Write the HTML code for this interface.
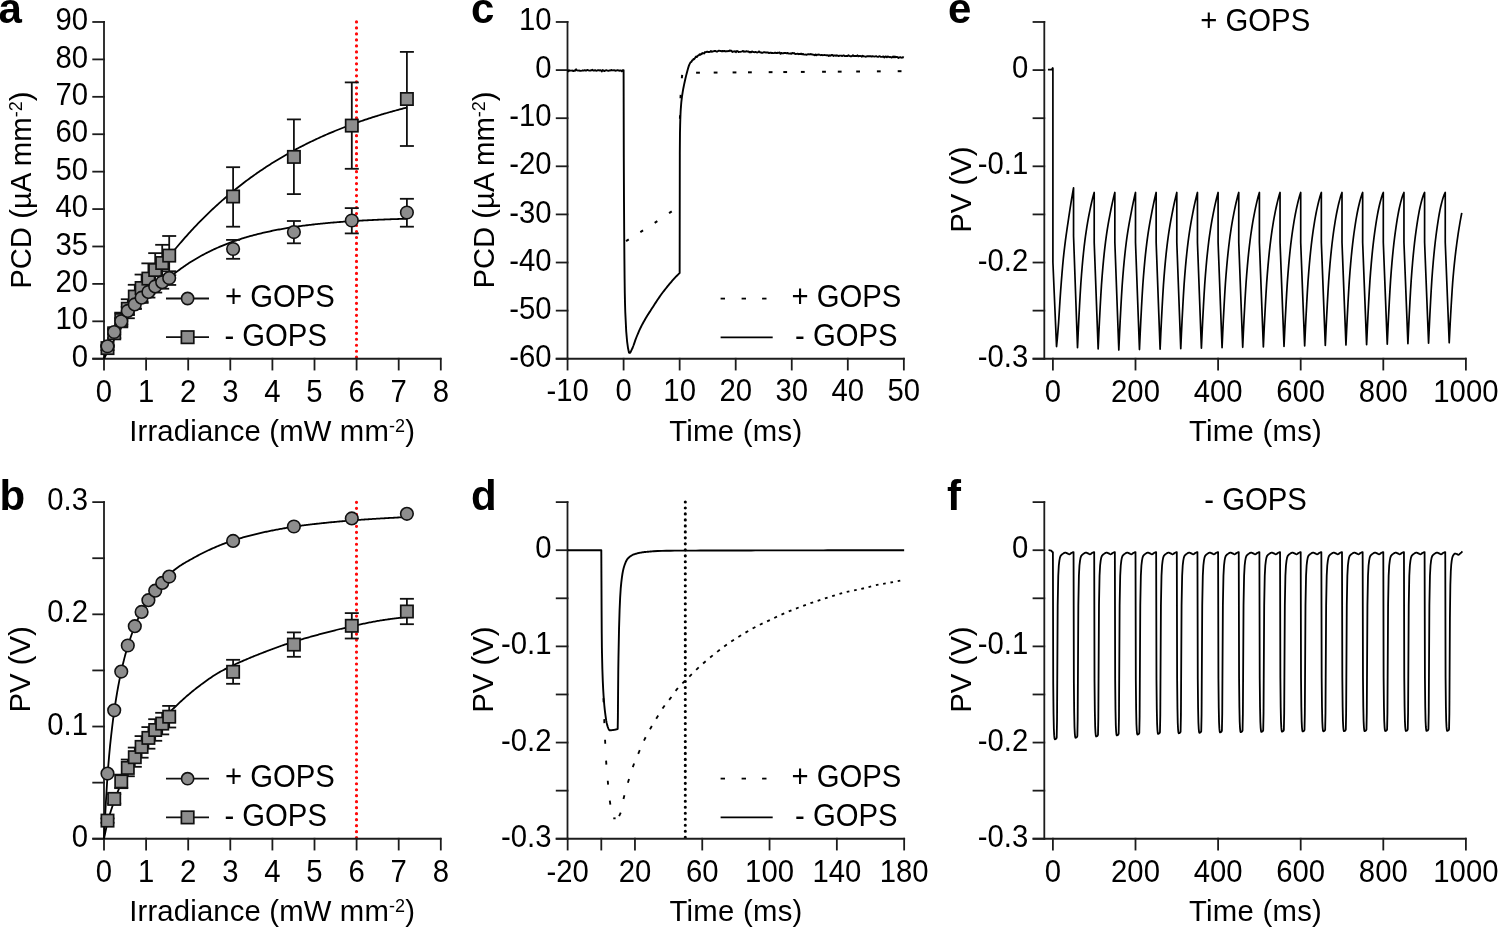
<!DOCTYPE html>
<html><head><meta charset="utf-8"><style>
html,body{margin:0;padding:0;background:#fff;width:1498px;height:928px;overflow:hidden}
svg{display:block;will-change:transform}
text{font-family:"Liberation Sans",sans-serif;fill:#000}
</style></head><body>
<svg width="1498" height="928" viewBox="0 0 1498 928">
<rect width="1498" height="928" fill="#fff"/>
<line x1="356.5" y1="502.35" x2="356.5" y2="838.5" stroke="#ff0a0a" stroke-width="3.2" stroke-linecap="round" stroke-dasharray="0.001 5.986" />
<line x1="356.5" y1="21.95" x2="356.5" y2="358" stroke="#ff0a0a" stroke-width="3.2" stroke-linecap="round" stroke-dasharray="0.001 5.986" />
<text x="-1.5" y="22.8" text-anchor="start" font-size="42" font-weight="bold" >a</text>
<text x="-0.5" y="510" text-anchor="start" font-size="42" font-weight="bold" >b</text>
<text x="471" y="22.8" text-anchor="start" font-size="42" font-weight="bold" >c</text>
<text x="471" y="510" text-anchor="start" font-size="42" font-weight="bold" >d</text>
<text x="948" y="22.8" text-anchor="start" font-size="42" font-weight="bold" >e</text>
<text x="947" y="510" text-anchor="start" font-size="42" font-weight="bold" >f</text>
<line x1="104" y1="21.08" x2="104" y2="359.64" stroke="#1c1c1c" stroke-width="1.8" />
<line x1="92.3" y1="358.74" x2="104.9" y2="358.74" stroke="#1c1c1c" stroke-width="1.8" />
<text transform="translate(88 366.84) scale(1 1.08)" text-anchor="end" font-size="29.3" font-weight="normal" >0</text>
<line x1="92.3" y1="321.32" x2="104.9" y2="321.32" stroke="#1c1c1c" stroke-width="1.8" />
<text transform="translate(88 329.42) scale(1 1.08)" text-anchor="end" font-size="29.3" font-weight="normal" >10</text>
<line x1="92.3" y1="283.9" x2="104.9" y2="283.9" stroke="#1c1c1c" stroke-width="1.8" />
<text transform="translate(88 292) scale(1 1.08)" text-anchor="end" font-size="29.3" font-weight="normal" >20</text>
<line x1="92.3" y1="246.49" x2="104.9" y2="246.49" stroke="#1c1c1c" stroke-width="1.8" />
<text transform="translate(88 254.59) scale(1 1.08)" text-anchor="end" font-size="29.3" font-weight="normal" >35</text>
<line x1="92.3" y1="209.07" x2="104.9" y2="209.07" stroke="#1c1c1c" stroke-width="1.8" />
<text transform="translate(88 217.17) scale(1 1.08)" text-anchor="end" font-size="29.3" font-weight="normal" >40</text>
<line x1="92.3" y1="171.65" x2="104.9" y2="171.65" stroke="#1c1c1c" stroke-width="1.8" />
<text transform="translate(88 179.75) scale(1 1.08)" text-anchor="end" font-size="29.3" font-weight="normal" >50</text>
<line x1="92.3" y1="134.23" x2="104.9" y2="134.23" stroke="#1c1c1c" stroke-width="1.8" />
<text transform="translate(88 142.33) scale(1 1.08)" text-anchor="end" font-size="29.3" font-weight="normal" >60</text>
<line x1="92.3" y1="96.82" x2="104.9" y2="96.82" stroke="#1c1c1c" stroke-width="1.8" />
<text transform="translate(88 104.92) scale(1 1.08)" text-anchor="end" font-size="29.3" font-weight="normal" >70</text>
<line x1="92.3" y1="59.4" x2="104.9" y2="59.4" stroke="#1c1c1c" stroke-width="1.8" />
<text transform="translate(88 67.5) scale(1 1.08)" text-anchor="end" font-size="29.3" font-weight="normal" >80</text>
<line x1="92.3" y1="21.98" x2="104.9" y2="21.98" stroke="#1c1c1c" stroke-width="1.8" />
<text transform="translate(88 30.08) scale(1 1.08)" text-anchor="end" font-size="29.3" font-weight="normal" >90</text>
<line x1="92.3" y1="358.74" x2="441.4" y2="358.74" stroke="#1c1c1c" stroke-width="1.8" />
<line x1="104" y1="357.84" x2="104" y2="370.44" stroke="#1c1c1c" stroke-width="1.8" />
<text transform="translate(104 401.74) scale(1 1.08)" text-anchor="middle" font-size="29.3" font-weight="normal" >0</text>
<line x1="146.1" y1="357.84" x2="146.1" y2="370.44" stroke="#1c1c1c" stroke-width="1.8" />
<text transform="translate(146.1 401.74) scale(1 1.08)" text-anchor="middle" font-size="29.3" font-weight="normal" >1</text>
<line x1="188.2" y1="357.84" x2="188.2" y2="370.44" stroke="#1c1c1c" stroke-width="1.8" />
<text transform="translate(188.2 401.74) scale(1 1.08)" text-anchor="middle" font-size="29.3" font-weight="normal" >2</text>
<line x1="230.3" y1="357.84" x2="230.3" y2="370.44" stroke="#1c1c1c" stroke-width="1.8" />
<text transform="translate(230.3 401.74) scale(1 1.08)" text-anchor="middle" font-size="29.3" font-weight="normal" >3</text>
<line x1="272.4" y1="357.84" x2="272.4" y2="370.44" stroke="#1c1c1c" stroke-width="1.8" />
<text transform="translate(272.4 401.74) scale(1 1.08)" text-anchor="middle" font-size="29.3" font-weight="normal" >4</text>
<line x1="314.5" y1="357.84" x2="314.5" y2="370.44" stroke="#1c1c1c" stroke-width="1.8" />
<text transform="translate(314.5 401.74) scale(1 1.08)" text-anchor="middle" font-size="29.3" font-weight="normal" >5</text>
<line x1="356.6" y1="357.84" x2="356.6" y2="370.44" stroke="#1c1c1c" stroke-width="1.8" />
<text transform="translate(356.6 401.74) scale(1 1.08)" text-anchor="middle" font-size="29.3" font-weight="normal" >6</text>
<line x1="398.7" y1="357.84" x2="398.7" y2="370.44" stroke="#1c1c1c" stroke-width="1.8" />
<text transform="translate(398.7 401.74) scale(1 1.08)" text-anchor="middle" font-size="29.3" font-weight="normal" >7</text>
<line x1="440.8" y1="357.84" x2="440.8" y2="370.44" stroke="#1c1c1c" stroke-width="1.8" />
<text transform="translate(440.8 401.74) scale(1 1.08)" text-anchor="middle" font-size="29.3" font-weight="normal" >8</text>
<text transform="translate(272.2 440.8) scale(1 1.03)" text-anchor="middle" font-size="29.3" font-weight="normal" letter-spacing="0.15">Irradiance (mW mm<tspan font-size="18" dy="-8.3">-2</tspan><tspan dy="8.3">)</tspan></text>
<text x="0" y="0" text-anchor="middle" font-size="29.3" transform="translate(30.8,190.2) rotate(-90) scale(1 1.03)">PCD (µA mm<tspan font-size="18" dy="-8.3">-2</tspan><tspan dy="8.3">)</tspan></text>
<path d="M104 358.74 L105.27 356.33 L106.54 353.94 L107.8 351.55 L109.07 349.18 L110.34 346.83 L111.61 344.5 L112.88 342.18 L114.15 339.89 L115.41 337.61 L116.68 335.35 L117.95 333.11 L119.22 330.88 L120.49 328.68 L121.76 326.49 L123.02 324.32 L124.29 322.17 L125.56 320.03 L126.83 317.91 L128.1 315.82 L129.37 313.73 L130.63 311.67 L131.9 309.62 L133.17 307.59 L134.44 305.57 L135.71 303.58 L136.98 301.6 L138.24 299.63 L139.51 297.68 L140.78 295.75 L142.05 293.84 L143.32 291.94 L144.59 290.05 L145.85 288.19 L147.12 286.33 L148.39 284.5 L149.66 282.68 L150.93 280.87 L152.19 279.08 L153.46 277.3 L154.73 275.54 L156 273.8 L157.27 272.06 L158.54 270.35 L159.8 268.65 L161.07 266.96 L162.34 265.28 L163.61 263.62 L164.88 261.98 L166.15 260.35 L167.41 258.73 L168.68 257.12 L169.95 255.53 L171.22 253.95 L172.49 252.39 L173.76 250.84 L175.02 249.3 L176.29 247.78 L177.56 246.26 L178.83 244.76 L180.1 243.28 L181.37 241.8 L182.63 240.34 L183.9 238.89 L185.17 237.46 L186.44 236.03 L187.71 234.62 L188.98 233.22 L190.24 231.83 L191.51 230.45 L192.78 229.09 L194.05 227.73 L195.32 226.39 L196.58 225.06 L197.85 223.74 L199.12 222.43 L200.39 221.13 L201.66 219.85 L202.93 218.57 L204.19 217.3 L205.46 216.05 L206.73 214.81 L208 213.57 L209.27 212.35 L210.54 211.14 L211.8 209.94 L213.07 208.75 L214.34 207.56 L215.61 206.39 L216.88 205.23 L218.15 204.08 L219.41 202.94 L220.68 201.81 L221.95 200.68 L223.22 199.57 L224.49 198.47 L225.76 197.37 L227.02 196.29 L228.29 195.21 L229.56 194.14 L230.83 193.09 L232.1 192.04 L233.37 191 L234.63 189.97 L235.9 188.95 L237.17 187.93 L238.44 186.93 L239.71 185.93 L240.97 184.94 L242.24 183.97 L243.51 182.99 L244.78 182.03 L246.05 181.08 L247.32 180.13 L248.58 179.19 L249.85 178.26 L251.12 177.34 L252.39 176.43 L253.66 175.52 L254.93 174.62 L256.19 173.73 L257.46 172.84 L258.73 171.97 L260 171.1 L261.27 170.24 L262.54 169.38 L263.8 168.54 L265.07 167.7 L266.34 166.87 L267.61 166.04 L268.88 165.22 L270.15 164.41 L271.41 163.61 L272.68 162.81 L273.95 162.02 L275.22 161.23 L276.49 160.46 L277.75 159.69 L279.02 158.92 L280.29 158.16 L281.56 157.41 L282.83 156.67 L284.1 155.93 L285.36 155.2 L286.63 154.47 L287.9 153.75 L289.17 153.04 L290.44 152.33 L291.71 151.63 L292.97 150.93 L294.24 150.24 L295.51 149.56 L296.78 148.88 L298.05 148.21 L299.32 147.54 L300.58 146.88 L301.85 146.23 L303.12 145.58 L304.39 144.94 L305.66 144.3 L306.93 143.66 L308.19 143.04 L309.46 142.41 L310.73 141.8 L312 141.19 L313.27 140.58 L314.54 139.98 L315.8 139.38 L317.07 138.79 L318.34 138.21 L319.61 137.62 L320.88 137.05 L322.14 136.48 L323.41 135.91 L324.68 135.35 L325.95 134.79 L327.22 134.24 L328.49 133.69 L329.75 133.15 L331.02 132.61 L332.29 132.08 L333.56 131.55 L334.83 131.03 L336.1 130.51 L337.36 129.99 L338.63 129.48 L339.9 128.98 L341.17 128.47 L342.44 127.98 L343.71 127.48 L344.97 126.99 L346.24 126.51 L347.51 126.03 L348.78 125.55 L350.05 125.08 L351.32 124.61 L352.58 124.14 L353.85 123.68 L355.12 123.23 L356.39 122.77 L357.66 122.32 L358.93 121.88 L360.19 121.44 L361.46 121 L362.73 120.57 L364 120.14 L365.27 119.71 L366.53 119.29 L367.8 118.87 L369.07 118.45 L370.34 118.04 L371.61 117.63 L372.88 117.23 L374.14 116.82 L375.41 116.43 L376.68 116.03 L377.95 115.64 L379.22 115.25 L380.49 114.87 L381.75 114.48 L383.02 114.11 L384.29 113.73 L385.56 113.36 L386.83 112.99 L388.1 112.63 L389.36 112.26 L390.63 111.9 L391.9 111.55 L393.17 111.19 L394.44 110.84 L395.71 110.5 L396.97 110.15 L398.24 109.81 L399.51 109.47 L400.78 109.14 L402.05 108.81 L403.32 108.48 L404.58 108.15 L405.85 107.83 L407.12 107.5" fill="none" stroke="#000" stroke-width="1.8" stroke-linejoin="round" />
<path d="M104 358.74 L105.27 353.97 L106.54 349.61 L107.8 345.89 L109.07 342.64 L110.34 339.66 L111.61 336.95 L112.88 334.46 L114.15 332.18 L115.41 330.12 L116.68 328.28 L117.95 326.56 L119.22 324.89 L120.49 323.2 L121.76 321.4 L123.02 319.44 L124.29 317.38 L125.56 315.32 L126.83 313.37 L128.1 311.62 L129.37 310.12 L130.63 308.79 L131.9 307.55 L133.17 306.37 L134.44 305.18 L135.71 303.94 L136.98 302.68 L138.24 301.42 L139.51 300.18 L140.78 298.97 L142.05 297.79 L143.32 296.66 L144.59 295.56 L145.85 294.48 L147.12 293.41 L148.39 292.34 L149.66 291.25 L150.93 290.15 L152.19 289.05 L153.46 287.99 L154.73 286.99 L156 286.07 L157.27 285.22 L158.54 284.41 L159.8 283.63 L161.07 282.86 L162.34 282.07 L163.61 281.3 L164.88 280.55 L166.15 279.79 L167.41 279 L168.68 278.17 L169.95 277.25 L171.22 276.23 L172.49 275.17 L173.76 274.1 L175.02 273.07 L176.29 272.08 L177.56 271.12 L178.83 270.17 L180.1 269.24 L181.37 268.32 L182.63 267.41 L183.9 266.53 L185.17 265.65 L186.44 264.79 L187.71 263.95 L188.98 263.12 L190.24 262.3 L191.51 261.5 L192.78 260.71 L194.05 259.93 L195.32 259.17 L196.58 258.42 L197.85 257.68 L199.12 256.95 L200.39 256.24 L201.66 255.54 L202.93 254.85 L204.19 254.17 L205.46 253.51 L206.73 252.85 L208 252.21 L209.27 251.58 L210.54 250.96 L211.8 250.35 L213.07 249.75 L214.34 249.16 L215.61 248.58 L216.88 248.01 L218.15 247.45 L219.41 246.9 L220.68 246.36 L221.95 245.83 L223.22 245.3 L224.49 244.79 L225.76 244.29 L227.02 243.79 L228.29 243.3 L229.56 242.83 L230.83 242.36 L232.1 241.9 L233.37 241.44 L234.63 241 L235.9 240.56 L237.17 240.13 L238.44 239.71 L239.71 239.29 L240.97 238.88 L242.24 238.48 L243.51 238.09 L244.78 237.7 L246.05 237.32 L247.32 236.95 L248.58 236.58 L249.85 236.22 L251.12 235.87 L252.39 235.52 L253.66 235.18 L254.93 234.85 L256.19 234.52 L257.46 234.19 L258.73 233.88 L260 233.57 L261.27 233.26 L262.54 232.96 L263.8 232.66 L265.07 232.37 L266.34 232.09 L267.61 231.81 L268.88 231.53 L270.15 231.26 L271.41 231 L272.68 230.74 L273.95 230.48 L275.22 230.23 L276.49 229.99 L277.75 229.74 L279.02 229.51 L280.29 229.27 L281.56 229.04 L282.83 228.82 L284.1 228.6 L285.36 228.38 L286.63 228.17 L287.9 227.96 L289.17 227.75 L290.44 227.55 L291.71 227.35 L292.97 227.16 L294.24 226.97 L295.51 226.78 L296.78 226.6 L298.05 226.42 L299.32 226.24 L300.58 226.07 L301.85 225.9 L303.12 225.73 L304.39 225.56 L305.66 225.4 L306.93 225.24 L308.19 225.09 L309.46 224.93 L310.73 224.78 L312 224.64 L313.27 224.49 L314.54 224.35 L315.8 224.21 L317.07 224.07 L318.34 223.94 L319.61 223.81 L320.88 223.68 L322.14 223.55 L323.41 223.42 L324.68 223.3 L325.95 223.18 L327.22 223.06 L328.49 222.95 L329.75 222.83 L331.02 222.72 L332.29 222.61 L333.56 222.51 L334.83 222.4 L336.1 222.3 L337.36 222.19 L338.63 222.09 L339.9 222 L341.17 221.9 L342.44 221.81 L343.71 221.71 L344.97 221.62 L346.24 221.53 L347.51 221.45 L348.78 221.36 L350.05 221.28 L351.32 221.19 L352.58 221.11 L353.85 221.03 L355.12 220.95 L356.39 220.88 L357.66 220.8 L358.93 220.73 L360.19 220.66 L361.46 220.58 L362.73 220.51 L364 220.45 L365.27 220.38 L366.53 220.31 L367.8 220.25 L369.07 220.18 L370.34 220.12 L371.61 220.06 L372.88 220 L374.14 219.94 L375.41 219.88 L376.68 219.83 L377.95 219.77 L379.22 219.72 L380.49 219.66 L381.75 219.61 L383.02 219.56 L384.29 219.51 L385.56 219.46 L386.83 219.41 L388.1 219.36 L389.36 219.31 L390.63 219.27 L391.9 219.22 L393.17 219.18 L394.44 219.14 L395.71 219.09 L396.97 219.05 L398.24 219.01 L399.51 218.97 L400.78 218.93 L402.05 218.89 L403.32 218.85 L404.58 218.82 L405.85 218.78 L407.12 218.74" fill="none" stroke="#000" stroke-width="1.8" stroke-linejoin="round" />
<line x1="107.5" y1="346.08" x2="107.5" y2="350.12" stroke="#111" stroke-width="1.8" />
<line x1="100.5" y1="346.08" x2="114.5" y2="346.08" stroke="#111" stroke-width="1.8" />
<line x1="100.5" y1="350.12" x2="114.5" y2="350.12" stroke="#111" stroke-width="1.8" />
<line x1="114.2" y1="328.47" x2="114.2" y2="338.13" stroke="#111" stroke-width="1.8" />
<line x1="107.2" y1="328.47" x2="121.2" y2="328.47" stroke="#111" stroke-width="1.8" />
<line x1="107.2" y1="338.13" x2="121.2" y2="338.13" stroke="#111" stroke-width="1.8" />
<line x1="121.25" y1="312.64" x2="121.25" y2="327.36" stroke="#111" stroke-width="1.8" />
<line x1="114.25" y1="312.64" x2="128.25" y2="312.64" stroke="#111" stroke-width="1.8" />
<line x1="114.25" y1="327.36" x2="128.25" y2="327.36" stroke="#111" stroke-width="1.8" />
<line x1="127.8" y1="299.25" x2="127.8" y2="318.25" stroke="#111" stroke-width="1.8" />
<line x1="120.8" y1="299.25" x2="134.8" y2="299.25" stroke="#111" stroke-width="1.8" />
<line x1="120.8" y1="318.25" x2="134.8" y2="318.25" stroke="#111" stroke-width="1.8" />
<line x1="134.8" y1="284.79" x2="134.8" y2="308.41" stroke="#111" stroke-width="1.8" />
<line x1="127.8" y1="284.79" x2="141.8" y2="284.79" stroke="#111" stroke-width="1.8" />
<line x1="127.8" y1="308.41" x2="141.8" y2="308.41" stroke="#111" stroke-width="1.8" />
<line x1="141.6" y1="274.56" x2="141.6" y2="301.44" stroke="#111" stroke-width="1.8" />
<line x1="134.6" y1="274.56" x2="148.6" y2="274.56" stroke="#111" stroke-width="1.8" />
<line x1="134.6" y1="301.44" x2="148.6" y2="301.44" stroke="#111" stroke-width="1.8" />
<line x1="148.4" y1="263.37" x2="148.4" y2="293.83" stroke="#111" stroke-width="1.8" />
<line x1="141.4" y1="263.37" x2="155.4" y2="263.37" stroke="#111" stroke-width="1.8" />
<line x1="141.4" y1="293.83" x2="155.4" y2="293.83" stroke="#111" stroke-width="1.8" />
<line x1="155.2" y1="253.14" x2="155.2" y2="286.86" stroke="#111" stroke-width="1.8" />
<line x1="148.2" y1="253.14" x2="162.2" y2="253.14" stroke="#111" stroke-width="1.8" />
<line x1="148.2" y1="286.86" x2="162.2" y2="286.86" stroke="#111" stroke-width="1.8" />
<line x1="162.2" y1="244.81" x2="162.2" y2="281.19" stroke="#111" stroke-width="1.8" />
<line x1="155.2" y1="244.81" x2="169.2" y2="244.81" stroke="#111" stroke-width="1.8" />
<line x1="155.2" y1="281.19" x2="169.2" y2="281.19" stroke="#111" stroke-width="1.8" />
<line x1="169.2" y1="236" x2="169.2" y2="275.2" stroke="#111" stroke-width="1.8" />
<line x1="162.2" y1="236" x2="176.2" y2="236" stroke="#111" stroke-width="1.8" />
<line x1="162.2" y1="275.2" x2="176.2" y2="275.2" stroke="#111" stroke-width="1.8" />
<line x1="233.1" y1="167.2" x2="233.1" y2="226.7" stroke="#111" stroke-width="1.8" />
<line x1="226.1" y1="167.2" x2="240.1" y2="167.2" stroke="#111" stroke-width="1.8" />
<line x1="226.1" y1="226.7" x2="240.1" y2="226.7" stroke="#111" stroke-width="1.8" />
<line x1="293.9" y1="119.4" x2="293.9" y2="194.1" stroke="#111" stroke-width="1.8" />
<line x1="286.9" y1="119.4" x2="300.9" y2="119.4" stroke="#111" stroke-width="1.8" />
<line x1="286.9" y1="194.1" x2="300.9" y2="194.1" stroke="#111" stroke-width="1.8" />
<line x1="351.8" y1="82.4" x2="351.8" y2="168.8" stroke="#111" stroke-width="1.8" />
<line x1="344.8" y1="82.4" x2="358.8" y2="82.4" stroke="#111" stroke-width="1.8" />
<line x1="344.8" y1="168.8" x2="358.8" y2="168.8" stroke="#111" stroke-width="1.8" />
<line x1="406.9" y1="51.9" x2="406.9" y2="146" stroke="#111" stroke-width="1.8" />
<line x1="399.9" y1="51.9" x2="413.9" y2="51.9" stroke="#111" stroke-width="1.8" />
<line x1="399.9" y1="146" x2="413.9" y2="146" stroke="#111" stroke-width="1.8" />
<line x1="107.5" y1="345.19" x2="107.5" y2="347.31" stroke="#111" stroke-width="1.8" />
<line x1="100.5" y1="345.19" x2="114.5" y2="345.19" stroke="#111" stroke-width="1.8" />
<line x1="100.5" y1="347.31" x2="114.5" y2="347.31" stroke="#111" stroke-width="1.8" />
<line x1="114.2" y1="329.73" x2="114.2" y2="334.27" stroke="#111" stroke-width="1.8" />
<line x1="107.2" y1="329.73" x2="121.2" y2="329.73" stroke="#111" stroke-width="1.8" />
<line x1="107.2" y1="334.27" x2="121.2" y2="334.27" stroke="#111" stroke-width="1.8" />
<line x1="121.25" y1="318.06" x2="121.25" y2="324.44" stroke="#111" stroke-width="1.8" />
<line x1="114.25" y1="318.06" x2="128.25" y2="318.06" stroke="#111" stroke-width="1.8" />
<line x1="114.25" y1="324.44" x2="128.25" y2="324.44" stroke="#111" stroke-width="1.8" />
<line x1="127.8" y1="306.83" x2="127.8" y2="314.97" stroke="#111" stroke-width="1.8" />
<line x1="120.8" y1="306.83" x2="134.8" y2="306.83" stroke="#111" stroke-width="1.8" />
<line x1="120.8" y1="314.97" x2="134.8" y2="314.97" stroke="#111" stroke-width="1.8" />
<line x1="134.8" y1="299.78" x2="134.8" y2="309.02" stroke="#111" stroke-width="1.8" />
<line x1="127.8" y1="299.78" x2="141.8" y2="299.78" stroke="#111" stroke-width="1.8" />
<line x1="127.8" y1="309.02" x2="141.8" y2="309.02" stroke="#111" stroke-width="1.8" />
<line x1="141.6" y1="292.51" x2="141.6" y2="302.89" stroke="#111" stroke-width="1.8" />
<line x1="134.6" y1="292.51" x2="148.6" y2="292.51" stroke="#111" stroke-width="1.8" />
<line x1="134.6" y1="302.89" x2="148.6" y2="302.89" stroke="#111" stroke-width="1.8" />
<line x1="148.4" y1="286.22" x2="148.4" y2="297.58" stroke="#111" stroke-width="1.8" />
<line x1="141.4" y1="286.22" x2="155.4" y2="286.22" stroke="#111" stroke-width="1.8" />
<line x1="141.4" y1="297.58" x2="155.4" y2="297.58" stroke="#111" stroke-width="1.8" />
<line x1="155.2" y1="280.25" x2="155.2" y2="292.55" stroke="#111" stroke-width="1.8" />
<line x1="148.2" y1="280.25" x2="162.2" y2="280.25" stroke="#111" stroke-width="1.8" />
<line x1="148.2" y1="292.55" x2="162.2" y2="292.55" stroke="#111" stroke-width="1.8" />
<line x1="162.2" y1="275.69" x2="162.2" y2="288.71" stroke="#111" stroke-width="1.8" />
<line x1="155.2" y1="275.69" x2="169.2" y2="275.69" stroke="#111" stroke-width="1.8" />
<line x1="155.2" y1="288.71" x2="169.2" y2="288.71" stroke="#111" stroke-width="1.8" />
<line x1="169.2" y1="271.25" x2="169.2" y2="284.95" stroke="#111" stroke-width="1.8" />
<line x1="162.2" y1="271.25" x2="176.2" y2="271.25" stroke="#111" stroke-width="1.8" />
<line x1="162.2" y1="284.95" x2="176.2" y2="284.95" stroke="#111" stroke-width="1.8" />
<line x1="233.1" y1="239.9" x2="233.1" y2="258.8" stroke="#111" stroke-width="1.8" />
<line x1="226.1" y1="239.9" x2="240.1" y2="239.9" stroke="#111" stroke-width="1.8" />
<line x1="226.1" y1="258.8" x2="240.1" y2="258.8" stroke="#111" stroke-width="1.8" />
<line x1="293.9" y1="221" x2="293.9" y2="243.3" stroke="#111" stroke-width="1.8" />
<line x1="286.9" y1="221" x2="300.9" y2="221" stroke="#111" stroke-width="1.8" />
<line x1="286.9" y1="243.3" x2="300.9" y2="243.3" stroke="#111" stroke-width="1.8" />
<line x1="351.8" y1="208.1" x2="351.8" y2="233.4" stroke="#111" stroke-width="1.8" />
<line x1="344.8" y1="208.1" x2="358.8" y2="208.1" stroke="#111" stroke-width="1.8" />
<line x1="344.8" y1="233.4" x2="358.8" y2="233.4" stroke="#111" stroke-width="1.8" />
<line x1="406.9" y1="198.8" x2="406.9" y2="226.7" stroke="#111" stroke-width="1.8" />
<line x1="399.9" y1="198.8" x2="413.9" y2="198.8" stroke="#111" stroke-width="1.8" />
<line x1="399.9" y1="226.7" x2="413.9" y2="226.7" stroke="#111" stroke-width="1.8" />
<rect x="101.35" y="341.95" width="12.3" height="12.3" fill="#8d8d8d" stroke="#111" stroke-width="1.7"/>
<rect x="108.05" y="327.15" width="12.3" height="12.3" fill="#8d8d8d" stroke="#111" stroke-width="1.7"/>
<rect x="115.1" y="313.85" width="12.3" height="12.3" fill="#8d8d8d" stroke="#111" stroke-width="1.7"/>
<rect x="121.65" y="302.6" width="12.3" height="12.3" fill="#8d8d8d" stroke="#111" stroke-width="1.7"/>
<rect x="128.65" y="290.45" width="12.3" height="12.3" fill="#8d8d8d" stroke="#111" stroke-width="1.7"/>
<rect x="135.45" y="281.85" width="12.3" height="12.3" fill="#8d8d8d" stroke="#111" stroke-width="1.7"/>
<rect x="142.25" y="272.45" width="12.3" height="12.3" fill="#8d8d8d" stroke="#111" stroke-width="1.7"/>
<rect x="149.05" y="263.85" width="12.3" height="12.3" fill="#8d8d8d" stroke="#111" stroke-width="1.7"/>
<rect x="156.05" y="256.85" width="12.3" height="12.3" fill="#8d8d8d" stroke="#111" stroke-width="1.7"/>
<rect x="163.05" y="249.45" width="12.3" height="12.3" fill="#8d8d8d" stroke="#111" stroke-width="1.7"/>
<rect x="226.95" y="190.35" width="12.3" height="12.3" fill="#8d8d8d" stroke="#111" stroke-width="1.7"/>
<rect x="287.75" y="150.75" width="12.3" height="12.3" fill="#8d8d8d" stroke="#111" stroke-width="1.7"/>
<rect x="345.65" y="119.45" width="12.3" height="12.3" fill="#8d8d8d" stroke="#111" stroke-width="1.7"/>
<rect x="400.75" y="92.85" width="12.3" height="12.3" fill="#8d8d8d" stroke="#111" stroke-width="1.7"/>
<circle cx="107.5" cy="346.25" r="6.3" fill="#8d8d8d" stroke="#111" stroke-width="1.6"/>
<circle cx="114.2" cy="332" r="6.3" fill="#8d8d8d" stroke="#111" stroke-width="1.6"/>
<circle cx="121.25" cy="321.25" r="6.3" fill="#8d8d8d" stroke="#111" stroke-width="1.6"/>
<circle cx="127.8" cy="310.9" r="6.3" fill="#8d8d8d" stroke="#111" stroke-width="1.6"/>
<circle cx="134.8" cy="304.4" r="6.3" fill="#8d8d8d" stroke="#111" stroke-width="1.6"/>
<circle cx="141.6" cy="297.7" r="6.3" fill="#8d8d8d" stroke="#111" stroke-width="1.6"/>
<circle cx="148.4" cy="291.9" r="6.3" fill="#8d8d8d" stroke="#111" stroke-width="1.6"/>
<circle cx="155.2" cy="286.4" r="6.3" fill="#8d8d8d" stroke="#111" stroke-width="1.6"/>
<circle cx="162.2" cy="282.2" r="6.3" fill="#8d8d8d" stroke="#111" stroke-width="1.6"/>
<circle cx="169.2" cy="278.1" r="6.3" fill="#8d8d8d" stroke="#111" stroke-width="1.6"/>
<circle cx="233.1" cy="249" r="6.3" fill="#8d8d8d" stroke="#111" stroke-width="1.6"/>
<circle cx="293.9" cy="232.1" r="6.3" fill="#8d8d8d" stroke="#111" stroke-width="1.6"/>
<circle cx="351.8" cy="220.5" r="6.3" fill="#8d8d8d" stroke="#111" stroke-width="1.6"/>
<circle cx="406.9" cy="212.5" r="6.3" fill="#8d8d8d" stroke="#111" stroke-width="1.6"/>
<line x1="166" y1="298.5" x2="209" y2="298.5" stroke="#111" stroke-width="1.8" />
<circle cx="187.6" cy="298.5" r="6.1" fill="#8d8d8d" stroke="#111" stroke-width="1.6"/>
<line x1="166" y1="337.2" x2="209" y2="337.2" stroke="#111" stroke-width="1.8" />
<rect x="181.4" y="331" width="12.4" height="12.4" fill="#8d8d8d" stroke="#111" stroke-width="1.7"/>
<text transform="translate(224.9 307.1) scale(1 1.06)" text-anchor="start" font-size="29.3" font-weight="normal" >+ GOPS</text>
<text transform="translate(224.4 345.5) scale(1 1.06)" text-anchor="start" font-size="29.3" font-weight="normal" >- GOPS</text>
<line x1="104" y1="501.22" x2="104" y2="839.64" stroke="#1c1c1c" stroke-width="1.8" />
<line x1="92.3" y1="838.74" x2="104.9" y2="838.74" stroke="#1c1c1c" stroke-width="1.8" />
<text transform="translate(88 846.84) scale(1 1.08)" text-anchor="end" font-size="29.3" font-weight="normal" >0</text>
<line x1="92.3" y1="782.64" x2="104.9" y2="782.64" stroke="#1c1c1c" stroke-width="1.8" />
<line x1="92.3" y1="726.53" x2="104.9" y2="726.53" stroke="#1c1c1c" stroke-width="1.8" />
<text transform="translate(88 734.63) scale(1 1.08)" text-anchor="end" font-size="29.3" font-weight="normal" >0.1</text>
<line x1="92.3" y1="670.43" x2="104.9" y2="670.43" stroke="#1c1c1c" stroke-width="1.8" />
<line x1="92.3" y1="614.33" x2="104.9" y2="614.33" stroke="#1c1c1c" stroke-width="1.8" />
<text transform="translate(88 622.43) scale(1 1.08)" text-anchor="end" font-size="29.3" font-weight="normal" >0.2</text>
<line x1="92.3" y1="558.22" x2="104.9" y2="558.22" stroke="#1c1c1c" stroke-width="1.8" />
<line x1="92.3" y1="502.12" x2="104.9" y2="502.12" stroke="#1c1c1c" stroke-width="1.8" />
<text transform="translate(88 510.22) scale(1 1.08)" text-anchor="end" font-size="29.3" font-weight="normal" >0.3</text>
<line x1="92.3" y1="838.74" x2="441.4" y2="838.74" stroke="#1c1c1c" stroke-width="1.8" />
<line x1="104" y1="837.84" x2="104" y2="850.44" stroke="#1c1c1c" stroke-width="1.8" />
<text transform="translate(104 881.74) scale(1 1.08)" text-anchor="middle" font-size="29.3" font-weight="normal" >0</text>
<line x1="146.1" y1="837.84" x2="146.1" y2="850.44" stroke="#1c1c1c" stroke-width="1.8" />
<text transform="translate(146.1 881.74) scale(1 1.08)" text-anchor="middle" font-size="29.3" font-weight="normal" >1</text>
<line x1="188.2" y1="837.84" x2="188.2" y2="850.44" stroke="#1c1c1c" stroke-width="1.8" />
<text transform="translate(188.2 881.74) scale(1 1.08)" text-anchor="middle" font-size="29.3" font-weight="normal" >2</text>
<line x1="230.3" y1="837.84" x2="230.3" y2="850.44" stroke="#1c1c1c" stroke-width="1.8" />
<text transform="translate(230.3 881.74) scale(1 1.08)" text-anchor="middle" font-size="29.3" font-weight="normal" >3</text>
<line x1="272.4" y1="837.84" x2="272.4" y2="850.44" stroke="#1c1c1c" stroke-width="1.8" />
<text transform="translate(272.4 881.74) scale(1 1.08)" text-anchor="middle" font-size="29.3" font-weight="normal" >4</text>
<line x1="314.5" y1="837.84" x2="314.5" y2="850.44" stroke="#1c1c1c" stroke-width="1.8" />
<text transform="translate(314.5 881.74) scale(1 1.08)" text-anchor="middle" font-size="29.3" font-weight="normal" >5</text>
<line x1="356.6" y1="837.84" x2="356.6" y2="850.44" stroke="#1c1c1c" stroke-width="1.8" />
<text transform="translate(356.6 881.74) scale(1 1.08)" text-anchor="middle" font-size="29.3" font-weight="normal" >6</text>
<line x1="398.7" y1="837.84" x2="398.7" y2="850.44" stroke="#1c1c1c" stroke-width="1.8" />
<text transform="translate(398.7 881.74) scale(1 1.08)" text-anchor="middle" font-size="29.3" font-weight="normal" >7</text>
<line x1="440.8" y1="837.84" x2="440.8" y2="850.44" stroke="#1c1c1c" stroke-width="1.8" />
<text transform="translate(440.8 881.74) scale(1 1.08)" text-anchor="middle" font-size="29.3" font-weight="normal" >8</text>
<text transform="translate(272.2 920.8) scale(1 1.03)" text-anchor="middle" font-size="29.3" font-weight="normal" letter-spacing="0.15">Irradiance (mW mm<tspan font-size="18" dy="-8.3">-2</tspan><tspan dy="8.3">)</tspan></text>
<text x="0" y="0" text-anchor="middle" font-size="29.3" transform="translate(30.2,669.4) rotate(-90) scale(1 1.03)">PV (V)</text>
<path d="M104 838.74 L105.01 818.4 L106.03 799.7 L107.04 782.97 L108.06 768.55 L109.07 756.38 L110.08 745.68 L111.1 736.13 L112.11 727.39 L113.12 719.23 L114.14 711.7 L115.15 704.74 L116.17 698.26 L117.18 692.18 L118.19 686.5 L119.21 681.16 L120.22 676.14 L121.23 671.4 L122.25 666.92 L123.26 662.68 L124.28 658.65 L125.29 654.83 L126.3 651.18 L127.32 647.71 L128.33 644.4 L129.34 641.24 L130.36 638.21 L131.37 635.31 L132.39 632.53 L133.4 629.86 L134.41 627.3 L135.43 624.84 L136.44 622.46 L137.45 620.18 L138.47 617.98 L139.48 615.86 L140.5 613.81 L141.51 611.83 L142.52 609.91 L143.54 608.06 L144.55 606.27 L145.56 604.54 L146.58 602.85 L147.59 601.22 L148.61 599.64 L149.62 598.11 L150.63 596.62 L151.65 595.17 L152.66 593.77 L153.68 592.4 L154.69 591.07 L155.7 589.77 L156.72 588.51 L157.73 587.29 L158.74 586.09 L159.76 584.93 L160.77 583.79 L161.79 582.68 L162.8 581.6 L163.81 580.55 L164.83 579.54 L165.84 578.55 L166.85 577.54 L167.87 576.5 L168.88 575.4 L169.9 574.29 L170.91 573.19 L171.92 572.12 L172.94 571.14 L173.95 570.26 L174.96 569.45 L175.98 568.67 L176.99 567.92 L178.01 567.19 L179.02 566.49 L180.03 565.81 L181.05 565.14 L182.06 564.5 L183.07 563.87 L184.09 563.26 L185.1 562.66 L186.12 562.07 L187.13 561.49 L188.14 560.92 L189.16 560.35 L190.17 559.79 L191.19 559.23 L192.2 558.68 L193.21 558.12 L194.23 557.56 L195.24 557 L196.25 556.45 L197.27 555.9 L198.28 555.35 L199.3 554.82 L200.31 554.29 L201.32 553.76 L202.34 553.25 L203.35 552.74 L204.36 552.23 L205.38 551.73 L206.39 551.24 L207.41 550.76 L208.42 550.28 L209.43 549.81 L210.45 549.34 L211.46 548.89 L212.47 548.43 L213.49 547.99 L214.5 547.55 L215.52 547.11 L216.53 546.68 L217.54 546.25 L218.56 545.83 L219.57 545.41 L220.58 545 L221.6 544.6 L222.61 544.2 L223.63 543.81 L224.64 543.42 L225.65 543.04 L226.67 542.67 L227.68 542.3 L228.69 541.95 L229.71 541.59 L230.72 541.25 L231.74 540.91 L232.75 540.57 L233.76 540.24 L234.78 539.91 L235.79 539.59 L236.81 539.27 L237.82 538.96 L238.83 538.65 L239.85 538.35 L240.86 538.05 L241.87 537.76 L242.89 537.47 L243.9 537.19 L244.92 536.91 L245.93 536.63 L246.94 536.36 L247.96 536.1 L248.97 535.83 L249.98 535.57 L251 535.31 L252.01 535.05 L253.03 534.8 L254.04 534.55 L255.05 534.3 L256.07 534.05 L257.08 533.81 L258.09 533.57 L259.11 533.33 L260.12 533.1 L261.14 532.87 L262.15 532.64 L263.16 532.41 L264.18 532.19 L265.19 531.97 L266.2 531.75 L267.22 531.53 L268.23 531.32 L269.25 531.11 L270.26 530.91 L271.27 530.7 L272.29 530.5 L273.3 530.3 L274.31 530.11 L275.33 529.91 L276.34 529.72 L277.36 529.53 L278.37 529.34 L279.38 529.15 L280.4 528.97 L281.41 528.79 L282.43 528.61 L283.44 528.43 L284.45 528.25 L285.47 528.08 L286.48 527.9 L287.49 527.73 L288.51 527.57 L289.52 527.4 L290.54 527.24 L291.55 527.08 L292.56 526.92 L293.58 526.76 L294.59 526.61 L295.6 526.46 L296.62 526.31 L297.63 526.16 L298.65 526.02 L299.66 525.88 L300.67 525.74 L301.69 525.61 L302.7 525.47 L303.71 525.34 L304.73 525.21 L305.74 525.08 L306.76 524.95 L307.77 524.82 L308.78 524.7 L309.8 524.58 L310.81 524.46 L311.82 524.34 L312.84 524.22 L313.85 524.1 L314.87 523.99 L315.88 523.87 L316.89 523.76 L317.91 523.65 L318.92 523.54 L319.93 523.43 L320.95 523.32 L321.96 523.21 L322.98 523.1 L323.99 522.99 L325 522.89 L326.02 522.78 L327.03 522.68 L328.05 522.58 L329.06 522.47 L330.07 522.37 L331.09 522.27 L332.1 522.17 L333.11 522.07 L334.13 521.98 L335.14 521.88 L336.16 521.78 L337.17 521.69 L338.18 521.59 L339.2 521.5 L340.21 521.41 L341.22 521.32 L342.24 521.23 L343.25 521.14 L344.27 521.05 L345.28 520.96 L346.29 520.88 L347.31 520.79 L348.32 520.71 L349.33 520.63 L350.35 520.54 L351.36 520.46 L352.38 520.38 L353.39 520.31 L354.4 520.23 L355.42 520.15 L356.43 520.08 L357.44 520 L358.46 519.93 L359.47 519.86 L360.49 519.78 L361.5 519.71 L362.51 519.64 L363.53 519.57 L364.54 519.5 L365.56 519.43 L366.57 519.37 L367.58 519.3 L368.6 519.23 L369.61 519.17 L370.62 519.1 L371.64 519.03 L372.65 518.97 L373.67 518.9 L374.68 518.84 L375.69 518.78 L376.71 518.71 L377.72 518.65 L378.73 518.59 L379.75 518.53 L380.76 518.47 L381.78 518.41 L382.79 518.35 L383.8 518.29 L384.82 518.23 L385.83 518.18 L386.84 518.12 L387.86 518.06 L388.87 518.01 L389.89 517.95 L390.9 517.9 L391.91 517.84 L392.93 517.78 L393.94 517.73 L394.95 517.67 L395.97 517.61 L396.98 517.55 L398 517.49 L399.01 517.43 L400.02 517.37 L401.04 517.3 L402.05 517.24 L403.06 517.18 L404.08 517.11 L405.09 517.04 L406.11 516.98 L407.12 516.91" fill="none" stroke="#000" stroke-width="1.8" stroke-linejoin="round" />
<path d="M104 838.74 L105.01 833.73 L106.03 829.01 L107.04 824.6 L108.06 820.54 L109.07 816.85 L110.08 813.45 L111.1 810.25 L112.11 807.18 L113.12 804.18 L114.14 801.3 L115.15 798.52 L116.17 795.83 L117.18 793.22 L118.19 790.68 L119.21 788.22 L120.22 785.83 L121.23 783.49 L122.25 781.22 L123.26 779.01 L124.28 776.84 L125.29 774.73 L126.3 772.67 L127.32 770.66 L128.33 768.68 L129.34 766.76 L130.36 764.87 L131.37 763.02 L132.39 761.21 L133.4 759.43 L134.41 757.69 L135.43 755.98 L136.44 754.31 L137.45 752.67 L138.47 751.05 L139.48 749.47 L140.5 747.91 L141.51 746.38 L142.52 744.88 L143.54 743.4 L144.55 741.95 L145.56 740.52 L146.58 739.11 L147.59 737.73 L148.61 736.37 L149.62 735.03 L150.63 733.71 L151.65 732.42 L152.66 731.14 L153.68 729.88 L154.69 728.64 L155.7 727.42 L156.72 726.21 L157.73 725.03 L158.74 723.86 L159.76 722.7 L160.77 721.56 L161.79 720.44 L162.8 719.34 L163.81 718.25 L164.83 717.17 L165.84 716.11 L166.85 715.06 L167.87 714.02 L168.88 712.99 L169.9 711.96 L170.91 710.95 L171.92 709.95 L172.94 708.96 L173.95 707.98 L174.96 707.01 L175.98 706.03 L176.99 705.06 L178.01 704.09 L179.02 703.14 L180.03 702.18 L181.05 701.24 L182.06 700.31 L183.07 699.38 L184.09 698.47 L185.1 697.57 L186.12 696.68 L187.13 695.8 L188.14 694.94 L189.16 694.08 L190.17 693.23 L191.19 692.38 L192.2 691.55 L193.21 690.72 L194.23 689.9 L195.24 689.09 L196.25 688.29 L197.27 687.49 L198.28 686.71 L199.3 685.93 L200.31 685.16 L201.32 684.4 L202.34 683.66 L203.35 682.92 L204.36 682.19 L205.38 681.46 L206.39 680.73 L207.41 680.01 L208.42 679.3 L209.43 678.6 L210.45 677.9 L211.46 677.22 L212.47 676.54 L213.49 675.87 L214.5 675.22 L215.52 674.58 L216.53 673.95 L217.54 673.33 L218.56 672.73 L219.57 672.15 L220.58 671.57 L221.6 671.01 L222.61 670.47 L223.63 669.93 L224.64 669.4 L225.65 668.88 L226.67 668.37 L227.68 667.87 L228.69 667.37 L229.71 666.88 L230.72 666.4 L231.74 665.91 L232.75 665.44 L233.76 664.96 L234.78 664.49 L235.79 664.02 L236.81 663.55 L237.82 663.09 L238.83 662.64 L239.85 662.18 L240.86 661.74 L241.87 661.3 L242.89 660.86 L243.9 660.42 L244.92 659.99 L245.93 659.56 L246.94 659.14 L247.96 658.71 L248.97 658.29 L249.98 657.87 L251 657.45 L252.01 657.03 L253.03 656.61 L254.04 656.2 L255.05 655.79 L256.07 655.38 L257.08 654.97 L258.09 654.57 L259.11 654.16 L260.12 653.76 L261.14 653.36 L262.15 652.97 L263.16 652.57 L264.18 652.18 L265.19 651.79 L266.2 651.41 L267.22 651.02 L268.23 650.64 L269.25 650.25 L270.26 649.87 L271.27 649.49 L272.29 649.11 L273.3 648.73 L274.31 648.35 L275.33 647.97 L276.34 647.6 L277.36 647.23 L278.37 646.86 L279.38 646.49 L280.4 646.13 L281.41 645.77 L282.43 645.41 L283.44 645.06 L284.45 644.72 L285.47 644.37 L286.48 644.04 L287.49 643.7 L288.51 643.38 L289.52 643.05 L290.54 642.73 L291.55 642.41 L292.56 642.09 L293.58 641.77 L294.59 641.46 L295.6 641.15 L296.62 640.84 L297.63 640.53 L298.65 640.23 L299.66 639.92 L300.67 639.62 L301.69 639.32 L302.7 639.03 L303.71 638.73 L304.73 638.44 L305.74 638.15 L306.76 637.86 L307.77 637.57 L308.78 637.28 L309.8 637 L310.81 636.71 L311.82 636.43 L312.84 636.15 L313.85 635.87 L314.87 635.59 L315.88 635.32 L316.89 635.04 L317.91 634.76 L318.92 634.49 L319.93 634.22 L320.95 633.95 L321.96 633.67 L322.98 633.4 L323.99 633.14 L325 632.87 L326.02 632.6 L327.03 632.34 L328.05 632.07 L329.06 631.81 L330.07 631.55 L331.09 631.29 L332.1 631.03 L333.11 630.77 L334.13 630.51 L335.14 630.26 L336.16 630 L337.17 629.75 L338.18 629.5 L339.2 629.25 L340.21 629 L341.22 628.76 L342.24 628.51 L343.25 628.27 L344.27 628.03 L345.28 627.79 L346.29 627.55 L347.31 627.32 L348.32 627.09 L349.33 626.85 L350.35 626.62 L351.36 626.4 L352.38 626.17 L353.39 625.95 L354.4 625.72 L355.42 625.5 L356.43 625.27 L357.44 625.05 L358.46 624.82 L359.47 624.6 L360.49 624.38 L361.5 624.16 L362.51 623.94 L363.53 623.73 L364.54 623.51 L365.56 623.3 L366.57 623.09 L367.58 622.88 L368.6 622.68 L369.61 622.47 L370.62 622.27 L371.64 622.08 L372.65 621.89 L373.67 621.7 L374.68 621.51 L375.69 621.33 L376.71 621.15 L377.72 620.98 L378.73 620.81 L379.75 620.64 L380.76 620.48 L381.78 620.32 L382.79 620.16 L383.8 620.01 L384.82 619.85 L385.83 619.7 L386.84 619.55 L387.86 619.4 L388.87 619.25 L389.89 619.11 L390.9 618.96 L391.91 618.82 L392.93 618.69 L393.94 618.55 L394.95 618.42 L395.97 618.28 L396.98 618.16 L398 618.03 L399.01 617.91 L400.02 617.79 L401.04 617.67 L402.05 617.55 L403.06 617.44 L404.08 617.33 L405.09 617.22 L406.11 617.12 L407.12 617.02" fill="none" stroke="#000" stroke-width="1.8" stroke-linejoin="round" />
<line x1="107.5" y1="818.46" x2="107.5" y2="822.74" stroke="#111" stroke-width="1.8" />
<line x1="100.5" y1="818.46" x2="114.5" y2="818.46" stroke="#111" stroke-width="1.8" />
<line x1="100.5" y1="822.74" x2="114.5" y2="822.74" stroke="#111" stroke-width="1.8" />
<line x1="114.2" y1="794.2" x2="114.2" y2="803.6" stroke="#111" stroke-width="1.8" />
<line x1="107.2" y1="794.2" x2="121.2" y2="794.2" stroke="#111" stroke-width="1.8" />
<line x1="107.2" y1="803.6" x2="121.2" y2="803.6" stroke="#111" stroke-width="1.8" />
<line x1="121.25" y1="774.63" x2="121.25" y2="788.17" stroke="#111" stroke-width="1.8" />
<line x1="114.25" y1="774.63" x2="128.25" y2="774.63" stroke="#111" stroke-width="1.8" />
<line x1="114.25" y1="788.17" x2="128.25" y2="788.17" stroke="#111" stroke-width="1.8" />
<line x1="127.8" y1="759.54" x2="127.8" y2="776.26" stroke="#111" stroke-width="1.8" />
<line x1="120.8" y1="759.54" x2="134.8" y2="759.54" stroke="#111" stroke-width="1.8" />
<line x1="120.8" y1="776.26" x2="134.8" y2="776.26" stroke="#111" stroke-width="1.8" />
<line x1="134.8" y1="747.58" x2="134.8" y2="766.82" stroke="#111" stroke-width="1.8" />
<line x1="127.8" y1="747.58" x2="141.8" y2="747.58" stroke="#111" stroke-width="1.8" />
<line x1="127.8" y1="766.82" x2="141.8" y2="766.82" stroke="#111" stroke-width="1.8" />
<line x1="141.6" y1="736.1" x2="141.6" y2="757.7" stroke="#111" stroke-width="1.8" />
<line x1="134.6" y1="736.1" x2="148.6" y2="736.1" stroke="#111" stroke-width="1.8" />
<line x1="134.6" y1="757.7" x2="148.6" y2="757.7" stroke="#111" stroke-width="1.8" />
<line x1="148.4" y1="727.1" x2="148.4" y2="748.7" stroke="#111" stroke-width="1.8" />
<line x1="141.4" y1="727.1" x2="155.4" y2="727.1" stroke="#111" stroke-width="1.8" />
<line x1="141.4" y1="748.7" x2="155.4" y2="748.7" stroke="#111" stroke-width="1.8" />
<line x1="155.2" y1="719.2" x2="155.2" y2="740.8" stroke="#111" stroke-width="1.8" />
<line x1="148.2" y1="719.2" x2="162.2" y2="719.2" stroke="#111" stroke-width="1.8" />
<line x1="148.2" y1="740.8" x2="162.2" y2="740.8" stroke="#111" stroke-width="1.8" />
<line x1="162.2" y1="712.8" x2="162.2" y2="734.4" stroke="#111" stroke-width="1.8" />
<line x1="155.2" y1="712.8" x2="169.2" y2="712.8" stroke="#111" stroke-width="1.8" />
<line x1="155.2" y1="734.4" x2="169.2" y2="734.4" stroke="#111" stroke-width="1.8" />
<line x1="169.2" y1="705.9" x2="169.2" y2="727.5" stroke="#111" stroke-width="1.8" />
<line x1="162.2" y1="705.9" x2="176.2" y2="705.9" stroke="#111" stroke-width="1.8" />
<line x1="162.2" y1="727.5" x2="176.2" y2="727.5" stroke="#111" stroke-width="1.8" />
<line x1="233.1" y1="659.8" x2="233.1" y2="683.8" stroke="#111" stroke-width="1.8" />
<line x1="226.1" y1="659.8" x2="240.1" y2="659.8" stroke="#111" stroke-width="1.8" />
<line x1="226.1" y1="683.8" x2="240.1" y2="683.8" stroke="#111" stroke-width="1.8" />
<line x1="293.9" y1="632.4" x2="293.9" y2="656.8" stroke="#111" stroke-width="1.8" />
<line x1="286.9" y1="632.4" x2="300.9" y2="632.4" stroke="#111" stroke-width="1.8" />
<line x1="286.9" y1="656.8" x2="300.9" y2="656.8" stroke="#111" stroke-width="1.8" />
<line x1="351.8" y1="613.1" x2="351.8" y2="638.5" stroke="#111" stroke-width="1.8" />
<line x1="344.8" y1="613.1" x2="358.8" y2="613.1" stroke="#111" stroke-width="1.8" />
<line x1="344.8" y1="638.5" x2="358.8" y2="638.5" stroke="#111" stroke-width="1.8" />
<line x1="406.9" y1="598.8" x2="406.9" y2="624.2" stroke="#111" stroke-width="1.8" />
<line x1="399.9" y1="598.8" x2="413.9" y2="598.8" stroke="#111" stroke-width="1.8" />
<line x1="399.9" y1="624.2" x2="413.9" y2="624.2" stroke="#111" stroke-width="1.8" />
<rect x="101.35" y="814.45" width="12.3" height="12.3" fill="#8d8d8d" stroke="#111" stroke-width="1.7"/>
<rect x="108.05" y="792.75" width="12.3" height="12.3" fill="#8d8d8d" stroke="#111" stroke-width="1.7"/>
<rect x="115.1" y="775.25" width="12.3" height="12.3" fill="#8d8d8d" stroke="#111" stroke-width="1.7"/>
<rect x="121.65" y="761.75" width="12.3" height="12.3" fill="#8d8d8d" stroke="#111" stroke-width="1.7"/>
<rect x="128.65" y="751.05" width="12.3" height="12.3" fill="#8d8d8d" stroke="#111" stroke-width="1.7"/>
<rect x="135.45" y="740.75" width="12.3" height="12.3" fill="#8d8d8d" stroke="#111" stroke-width="1.7"/>
<rect x="142.25" y="731.75" width="12.3" height="12.3" fill="#8d8d8d" stroke="#111" stroke-width="1.7"/>
<rect x="149.05" y="723.85" width="12.3" height="12.3" fill="#8d8d8d" stroke="#111" stroke-width="1.7"/>
<rect x="156.05" y="717.45" width="12.3" height="12.3" fill="#8d8d8d" stroke="#111" stroke-width="1.7"/>
<rect x="163.05" y="710.55" width="12.3" height="12.3" fill="#8d8d8d" stroke="#111" stroke-width="1.7"/>
<rect x="226.95" y="665.65" width="12.3" height="12.3" fill="#8d8d8d" stroke="#111" stroke-width="1.7"/>
<rect x="287.75" y="638.45" width="12.3" height="12.3" fill="#8d8d8d" stroke="#111" stroke-width="1.7"/>
<rect x="345.65" y="619.65" width="12.3" height="12.3" fill="#8d8d8d" stroke="#111" stroke-width="1.7"/>
<rect x="400.75" y="605.35" width="12.3" height="12.3" fill="#8d8d8d" stroke="#111" stroke-width="1.7"/>
<circle cx="107.5" cy="773.6" r="6.3" fill="#8d8d8d" stroke="#111" stroke-width="1.6"/>
<circle cx="114.2" cy="710.3" r="6.3" fill="#8d8d8d" stroke="#111" stroke-width="1.6"/>
<circle cx="121.25" cy="671.6" r="6.3" fill="#8d8d8d" stroke="#111" stroke-width="1.6"/>
<circle cx="127.8" cy="645.5" r="6.3" fill="#8d8d8d" stroke="#111" stroke-width="1.6"/>
<circle cx="134.8" cy="626.2" r="6.3" fill="#8d8d8d" stroke="#111" stroke-width="1.6"/>
<circle cx="141.6" cy="611.9" r="6.3" fill="#8d8d8d" stroke="#111" stroke-width="1.6"/>
<circle cx="148.4" cy="600.2" r="6.3" fill="#8d8d8d" stroke="#111" stroke-width="1.6"/>
<circle cx="155.2" cy="590.7" r="6.3" fill="#8d8d8d" stroke="#111" stroke-width="1.6"/>
<circle cx="162.2" cy="582.9" r="6.3" fill="#8d8d8d" stroke="#111" stroke-width="1.6"/>
<circle cx="169.2" cy="576.6" r="6.3" fill="#8d8d8d" stroke="#111" stroke-width="1.6"/>
<circle cx="233.1" cy="540.9" r="6.3" fill="#8d8d8d" stroke="#111" stroke-width="1.6"/>
<circle cx="293.9" cy="526.5" r="6.3" fill="#8d8d8d" stroke="#111" stroke-width="1.6"/>
<circle cx="351.8" cy="518.4" r="6.3" fill="#8d8d8d" stroke="#111" stroke-width="1.6"/>
<circle cx="406.9" cy="513.8" r="6.3" fill="#8d8d8d" stroke="#111" stroke-width="1.6"/>
<line x1="166" y1="778.7" x2="209" y2="778.7" stroke="#111" stroke-width="1.8" />
<circle cx="187.6" cy="778.7" r="6.1" fill="#8d8d8d" stroke="#111" stroke-width="1.6"/>
<line x1="166" y1="817.4" x2="209" y2="817.4" stroke="#111" stroke-width="1.8" />
<rect x="181.4" y="811.2" width="12.4" height="12.4" fill="#8d8d8d" stroke="#111" stroke-width="1.7"/>
<text transform="translate(224.9 787.3) scale(1 1.06)" text-anchor="start" font-size="29.3" font-weight="normal" >+ GOPS</text>
<text transform="translate(224.4 825.7) scale(1 1.06)" text-anchor="start" font-size="29.3" font-weight="normal" >- GOPS</text>
<line x1="685.3" y1="501.95" x2="685.3" y2="838.5" stroke="#000" stroke-width="3.1" stroke-linecap="round" stroke-dasharray="0.001 5.986"/>
<line x1="567.5" y1="21.08" x2="567.5" y2="359.64" stroke="#1c1c1c" stroke-width="1.8" />
<line x1="555.8" y1="21.98" x2="568.4" y2="21.98" stroke="#1c1c1c" stroke-width="1.8" />
<text transform="translate(551.5 30.08) scale(1 1.08)" text-anchor="end" font-size="29.3" font-weight="normal" >10</text>
<line x1="555.8" y1="70.09" x2="568.4" y2="70.09" stroke="#1c1c1c" stroke-width="1.8" />
<text transform="translate(551.5 78.19) scale(1 1.08)" text-anchor="end" font-size="29.3" font-weight="normal" >0</text>
<line x1="555.8" y1="118.2" x2="568.4" y2="118.2" stroke="#1c1c1c" stroke-width="1.8" />
<text transform="translate(551.5 126.3) scale(1 1.08)" text-anchor="end" font-size="29.3" font-weight="normal" >-10</text>
<line x1="555.8" y1="166.31" x2="568.4" y2="166.31" stroke="#1c1c1c" stroke-width="1.8" />
<text transform="translate(551.5 174.41) scale(1 1.08)" text-anchor="end" font-size="29.3" font-weight="normal" >-20</text>
<line x1="555.8" y1="214.41" x2="568.4" y2="214.41" stroke="#1c1c1c" stroke-width="1.8" />
<text transform="translate(551.5 222.51) scale(1 1.08)" text-anchor="end" font-size="29.3" font-weight="normal" >-30</text>
<line x1="555.8" y1="262.52" x2="568.4" y2="262.52" stroke="#1c1c1c" stroke-width="1.8" />
<text transform="translate(551.5 270.62) scale(1 1.08)" text-anchor="end" font-size="29.3" font-weight="normal" >-40</text>
<line x1="555.8" y1="310.63" x2="568.4" y2="310.63" stroke="#1c1c1c" stroke-width="1.8" />
<text transform="translate(551.5 318.73) scale(1 1.08)" text-anchor="end" font-size="29.3" font-weight="normal" >-50</text>
<line x1="555.8" y1="358.74" x2="568.4" y2="358.74" stroke="#1c1c1c" stroke-width="1.8" />
<text transform="translate(551.5 366.84) scale(1 1.08)" text-anchor="end" font-size="29.3" font-weight="normal" >-60</text>
<line x1="555.7" y1="358.74" x2="904.7" y2="358.74" stroke="#1c1c1c" stroke-width="1.8" />
<line x1="567.55" y1="357.84" x2="567.55" y2="370.44" stroke="#1c1c1c" stroke-width="1.8" />
<text transform="translate(567.55 400.84) scale(1 1.08)" text-anchor="middle" font-size="29.3" font-weight="normal" >-10</text>
<line x1="623.6" y1="357.84" x2="623.6" y2="370.44" stroke="#1c1c1c" stroke-width="1.8" />
<text transform="translate(623.6 400.84) scale(1 1.08)" text-anchor="middle" font-size="29.3" font-weight="normal" >0</text>
<line x1="679.65" y1="357.84" x2="679.65" y2="370.44" stroke="#1c1c1c" stroke-width="1.8" />
<text transform="translate(679.65 400.84) scale(1 1.08)" text-anchor="middle" font-size="29.3" font-weight="normal" >10</text>
<line x1="735.7" y1="357.84" x2="735.7" y2="370.44" stroke="#1c1c1c" stroke-width="1.8" />
<text transform="translate(735.7 400.84) scale(1 1.08)" text-anchor="middle" font-size="29.3" font-weight="normal" >20</text>
<line x1="791.75" y1="357.84" x2="791.75" y2="370.44" stroke="#1c1c1c" stroke-width="1.8" />
<text transform="translate(791.75 400.84) scale(1 1.08)" text-anchor="middle" font-size="29.3" font-weight="normal" >30</text>
<line x1="847.8" y1="357.84" x2="847.8" y2="370.44" stroke="#1c1c1c" stroke-width="1.8" />
<text transform="translate(847.8 400.84) scale(1 1.08)" text-anchor="middle" font-size="29.3" font-weight="normal" >40</text>
<line x1="903.85" y1="357.84" x2="903.85" y2="370.44" stroke="#1c1c1c" stroke-width="1.8" />
<text transform="translate(903.85 400.84) scale(1 1.08)" text-anchor="middle" font-size="29.3" font-weight="normal" >50</text>
<text transform="translate(735.8 440.5) scale(1 1.03)" text-anchor="middle" font-size="29.3" font-weight="normal" letter-spacing="0.28">Time (ms)</text>
<text x="0" y="0" text-anchor="middle" font-size="29.3" transform="translate(493.7,190) rotate(-90) scale(1 1.03)">PCD (µA mm<tspan font-size="18" dy="-8.3">-2</tspan><tspan dy="8.3">)</tspan></text>
<path d="M567.55 69.78 L568.5 71.33 L569.45 70.33 L570.4 70.66 L571.35 70.62 L572.3 70.54 L573.25 71.15 L574.2 70.55 L575.15 70.76 L576.1 69.35 L577.05 70.39 L578 70.59 L578.95 70.56 L579.9 70.69 L580.85 70.82 L581.8 70.6 L582.75 70.3 L583.7 70.55 L584.65 70.14 L585.6 70.54 L586.55 70.46 L587.5 69.95 L588.45 70.28 L589.4 70.64 L590.35 70.53 L591.3 70.29 L592.25 69.81 L593.2 70.56 L594.15 70.55 L595.1 70.13 L596.05 70.77 L597 70.57 L597.95 70.17 L598.9 70.27 L599.85 70.44 L600.8 70.24 L601.75 71.42 L602.7 70.12 L603.65 70.79 L604.6 71.03 L605.55 70.37 L606.5 70.23 L607.45 70.62 L608.4 70.83 L609.35 70.46 L610.3 70.49 L611.25 69.99 L612.2 70.22 L613.15 70.4 L614.1 70.09 L615.05 70.54 L616 70.78 L616.95 70.27 L617.9 70.27 L618.85 70.54 L619.8 70.73 L620.75 70.39 L621.7 71.31 L622.65 70.23 L623.6 70.3 L623.6 70.47 L623.8 157.69 L624 201.96 L624.2 233.45 L624.4 258.89 L624.6 278.67 L624.8 293.2 L625 302.89 L625.28 312.16 L626.2 331.11 L627.12 341.72 L628.05 348.29 L628.97 352.6 L629.89 353 L630.81 351.62 L631.73 349.71 L632.65 347.74 L633.58 345.28 L634.5 342.57 L635.42 339.91 L636.34 337.53 L637.26 335.25 L638.18 333.02 L639.1 330.88 L640.03 328.85 L640.95 326.97 L641.87 325.18 L642.79 323.45 L643.71 321.79 L644.63 320.17 L645.55 318.6 L646.48 317.06 L647.4 315.56 L648.32 314.09 L649.24 312.63 L650.16 311.19 L651.08 309.76 L652 308.33 L652.93 306.9 L653.85 305.46 L654.77 304.03 L655.69 302.61 L656.61 301.21 L657.53 299.82 L658.46 298.45 L659.38 297.1 L660.3 295.78 L661.22 294.49 L662.14 293.24 L663.06 292.02 L663.98 290.82 L664.91 289.64 L665.83 288.48 L666.75 287.32 L667.67 286.18 L668.59 285.06 L669.51 283.95 L670.44 282.85 L671.36 281.78 L672.28 280.72 L673.2 279.68 L674.12 278.66 L675.04 277.66 L675.96 276.69 L676.89 275.73 L677.81 274.8 L678.73 273.89 L679.65 273 L679.65 273 L679.81 153.65 L679.97 132.93 L680.14 125.51 L680.3 119.71 L680.46 115.21 L680.62 111.75 L680.78 109.04 L680.95 106.81 L681.11 104.79 L681.33 102.2 L682.01 96.4 L682.68 92.09 L683.36 88.2 L684.03 84.87 L684.71 81.73 L685.38 78.71 L686.06 75.86 L686.74 73.23 L687.41 70.76 L688.09 68.33 L688.76 66.12 L689.44 64.33 L690.11 63.08 L690.79 62.08 L691.46 61.77 L692.14 60.45 L692.81 60.12 L693.49 58.9 L694.17 59.22 L694.84 58.25 L695.52 57.14 L696.19 56.47 L696.87 57.1 L697.54 56.08 L698.22 55.39 L698.89 55.33 L699.57 54.22 L700.24 54.82 L700.92 53.99 L701.6 54.17 L702.27 53.07 L702.95 53.3 L703.62 53.19 L704.3 53.43 L704.97 52.07 L705.65 52.18 L706.32 52 L707 51.69 L707.68 51.81 L708.24 52.03 L709.13 51.94 L710.02 51.82 L710.92 50.97 L711.81 51.82 L712.7 51.43 L713.59 51.26 L714.49 51.01 L715.38 50.86 L716.27 51.46 L717.17 51.63 L718.06 51.06 L718.95 50.65 L719.85 50.82 L720.74 51.02 L721.63 51.22 L722.53 51.03 L723.42 51.23 L724.31 50.89 L725.21 51.45 L726.1 51.16 L726.99 51.26 L727.89 51.06 L728.78 51.18 L729.67 50.42 L730.57 50.8 L731.46 50.82 L732.35 52.04 L733.25 51.49 L734.14 51.6 L735.03 51.24 L735.93 52.21 L736.82 51.07 L737.71 51.14 L738.6 51.96 L739.5 51.88 L740.39 51.85 L741.28 51.59 L742.18 51.42 L743.07 50.97 L743.96 51.76 L744.86 51.46 L745.75 51.7 L746.64 51.19 L747.54 51.56 L748.43 51.38 L749.32 52.24 L750.22 51.97 L751.11 52.21 L752 51.46 L752.9 51.78 L753.79 52.14 L754.68 52.22 L755.58 51.93 L756.47 52.37 L757.36 52.47 L758.26 52.03 L759.15 51.39 L760.04 52.34 L760.94 52.48 L761.83 52.72 L762.72 52.81 L763.61 52.21 L764.51 52.14 L765.4 52.46 L766.29 52.38 L767.19 52.49 L768.08 52.52 L768.97 53.12 L769.87 52.8 L770.76 52.65 L771.65 52.99 L772.55 52.92 L773.44 53.08 L774.33 52.96 L775.23 52.6 L776.12 53.06 L777.01 53.02 L777.91 52.73 L778.8 52.83 L779.69 52.52 L780.59 53.84 L781.48 52.89 L782.37 53.38 L783.27 53.22 L784.16 53.02 L785.05 52.98 L785.95 53.04 L786.84 53.38 L787.73 52.93 L788.63 53.62 L789.52 53.61 L790.41 53.34 L791.3 53.84 L792.2 52.97 L793.09 53.39 L793.98 53.05 L794.88 53.83 L795.77 54 L796.66 53.85 L797.56 53.7 L798.45 54.19 L799.34 53.91 L800.24 54.08 L801.13 53.58 L802.02 54.39 L802.92 53.85 L803.81 54.46 L804.7 54.61 L805.6 54.56 L806.49 54.77 L807.38 54.35 L808.28 54.1 L809.17 54.43 L810.06 54.31 L810.96 54.01 L811.85 54.5 L812.74 54.57 L813.64 54.76 L814.53 55.25 L815.42 54.48 L816.31 55.36 L817.21 54.59 L818.1 54.84 L818.99 54.49 L819.89 54.93 L820.78 55.21 L821.67 54.84 L822.57 55.19 L823.46 55.09 L824.35 55.04 L825.25 55.14 L826.14 55.18 L827.03 55.43 L827.93 55.25 L828.82 55.93 L829.71 55.3 L830.61 55.68 L831.5 54.93 L832.39 54.91 L833.29 56.02 L834.18 55.35 L835.07 55.47 L835.97 55.81 L836.86 55.31 L837.75 55.67 L838.65 56.14 L839.54 55.66 L840.43 55.65 L841.32 55.6 L842.22 56.08 L843.11 55.48 L844 55.47 L844.9 56.13 L845.79 56 L846.68 55.83 L847.58 56.02 L848.47 55.27 L849.36 55.82 L850.26 56.26 L851.15 56.21 L852.04 55.99 L852.94 55.23 L853.83 56.09 L854.72 56.01 L855.62 55.91 L856.51 56.12 L857.4 55.37 L858.3 56.34 L859.19 55.94 L860.08 56.16 L860.98 56.03 L861.87 56.67 L862.76 55.7 L863.66 56.36 L864.55 56.34 L865.44 56.69 L866.33 56.64 L867.23 56.23 L868.12 56.12 L869.01 56.22 L869.91 56.09 L870.8 56.28 L871.69 56.54 L872.59 56.29 L873.48 56.4 L874.37 56.65 L875.27 56.4 L876.16 56.23 L877.05 56.61 L877.95 56.84 L878.84 56.5 L879.73 56.12 L880.63 56.85 L881.52 56.84 L882.41 56.88 L883.31 56.44 L884.2 57.49 L885.09 56.77 L885.99 56.51 L886.88 57.21 L887.77 56.46 L888.67 56.8 L889.56 57.19 L890.45 56.95 L891.34 57.56 L892.24 57.25 L893.13 56.47 L894.02 57.41 L894.92 56.5 L895.81 57.17 L896.7 56.83 L897.6 57.17 L898.49 57.96 L899.38 57.41 L900.28 57.17 L901.17 57.64 L902.06 57.73 L902.96 57.17 L903.85 57.53" fill="none" stroke="#000" stroke-width="1.9" stroke-linejoin="round" />
<line x1="626.05" y1="241.05" x2="628.75" y2="239.35" stroke="#000" stroke-width="2.0" stroke-linecap="butt"/>
<line x1="640.35" y1="232.06" x2="643.05" y2="230.34" stroke="#000" stroke-width="2.0" stroke-linecap="butt"/>
<line x1="654.66" y1="222.88" x2="657.34" y2="221.12" stroke="#000" stroke-width="2.0" stroke-linecap="butt"/>
<line x1="669.07" y1="213.19" x2="671.73" y2="211.41" stroke="#000" stroke-width="2.0" stroke-linecap="butt"/>
<line x1="679.95" y1="118.7" x2="680.05" y2="115.3" stroke="#000" stroke-width="2.0" stroke-linecap="butt"/>
<line x1="680.52" y1="98.3" x2="680.68" y2="94.9" stroke="#000" stroke-width="2.0" stroke-linecap="butt"/>
<line x1="681.88" y1="78.3" x2="682.12" y2="74.9" stroke="#000" stroke-width="2.0" stroke-linecap="butt"/>
<line x1="696.1" y1="72.7" x2="699.9" y2="72.7" stroke="#000" stroke-width="2.0" stroke-linecap="butt"/>
<line x1="713.7" y1="72.57" x2="717.5" y2="72.57" stroke="#000" stroke-width="2.0" stroke-linecap="butt"/>
<line x1="732.6" y1="72.43" x2="736.4" y2="72.43" stroke="#000" stroke-width="2.0" stroke-linecap="butt"/>
<line x1="748" y1="72.31" x2="751.8" y2="72.31" stroke="#000" stroke-width="2.0" stroke-linecap="butt"/>
<line x1="768.7" y1="72.16" x2="772.5" y2="72.16" stroke="#000" stroke-width="2.0" stroke-linecap="butt"/>
<line x1="783.3" y1="72.05" x2="787.1" y2="72.05" stroke="#000" stroke-width="2.0" stroke-linecap="butt"/>
<line x1="800.9" y1="71.92" x2="804.7" y2="71.92" stroke="#000" stroke-width="2.0" stroke-linecap="butt"/>
<line x1="822.1" y1="71.76" x2="825.9" y2="71.76" stroke="#000" stroke-width="2.0" stroke-linecap="butt"/>
<line x1="837.8" y1="71.65" x2="841.6" y2="71.65" stroke="#000" stroke-width="2.0" stroke-linecap="butt"/>
<line x1="856.2" y1="71.51" x2="860" y2="71.51" stroke="#000" stroke-width="2.0" stroke-linecap="butt"/>
<line x1="876.9" y1="71.35" x2="880.7" y2="71.35" stroke="#000" stroke-width="2.0" stroke-linecap="butt"/>
<line x1="897.7" y1="71.2" x2="901.5" y2="71.2" stroke="#000" stroke-width="2.0" stroke-linecap="butt"/>
<line x1="720.6" y1="337.3" x2="772.7" y2="337.3" stroke="#000" stroke-width="1.8" />
<line x1="720.6" y1="298.6" x2="725" y2="298.6" stroke="#000" stroke-width="1.8" />
<line x1="741.6" y1="298.6" x2="746" y2="298.6" stroke="#000" stroke-width="1.8" />
<line x1="762.1" y1="298.6" x2="766.5" y2="298.6" stroke="#000" stroke-width="1.8" />
<text transform="translate(791.5 307.1) scale(1 1.06)" text-anchor="start" font-size="29.3" font-weight="normal" >+ GOPS</text>
<text transform="translate(795 345.6) scale(1 1.06)" text-anchor="start" font-size="29.3" font-weight="normal" >- GOPS</text>
<line x1="567.5" y1="501.22" x2="567.5" y2="839.64" stroke="#1c1c1c" stroke-width="1.8" />
<line x1="555.8" y1="502.12" x2="568.4" y2="502.12" stroke="#1c1c1c" stroke-width="1.8" />
<line x1="555.8" y1="550.21" x2="568.4" y2="550.21" stroke="#1c1c1c" stroke-width="1.8" />
<text transform="translate(551.5 558.31) scale(1 1.08)" text-anchor="end" font-size="29.3" font-weight="normal" >0</text>
<line x1="555.8" y1="598.3" x2="568.4" y2="598.3" stroke="#1c1c1c" stroke-width="1.8" />
<line x1="555.8" y1="646.39" x2="568.4" y2="646.39" stroke="#1c1c1c" stroke-width="1.8" />
<text transform="translate(551.5 654.49) scale(1 1.08)" text-anchor="end" font-size="29.3" font-weight="normal" >-0.1</text>
<line x1="555.8" y1="694.47" x2="568.4" y2="694.47" stroke="#1c1c1c" stroke-width="1.8" />
<line x1="555.8" y1="742.56" x2="568.4" y2="742.56" stroke="#1c1c1c" stroke-width="1.8" />
<text transform="translate(551.5 750.66) scale(1 1.08)" text-anchor="end" font-size="29.3" font-weight="normal" >-0.2</text>
<line x1="555.8" y1="790.65" x2="568.4" y2="790.65" stroke="#1c1c1c" stroke-width="1.8" />
<line x1="555.8" y1="838.74" x2="568.4" y2="838.74" stroke="#1c1c1c" stroke-width="1.8" />
<text transform="translate(551.5 846.84) scale(1 1.08)" text-anchor="end" font-size="29.3" font-weight="normal" >-0.3</text>
<line x1="555.7" y1="838.74" x2="905.1" y2="838.74" stroke="#1c1c1c" stroke-width="1.8" />
<line x1="567.65" y1="837.84" x2="567.65" y2="850.44" stroke="#1c1c1c" stroke-width="1.8" />
<text transform="translate(567.65 881.74) scale(1 1.08)" text-anchor="middle" font-size="29.3" font-weight="normal" >-20</text>
<line x1="601.3" y1="837.84" x2="601.3" y2="850.44" stroke="#1c1c1c" stroke-width="1.8" />
<line x1="634.95" y1="837.84" x2="634.95" y2="850.44" stroke="#1c1c1c" stroke-width="1.8" />
<text transform="translate(634.95 881.74) scale(1 1.08)" text-anchor="middle" font-size="29.3" font-weight="normal" >20</text>
<line x1="702.25" y1="837.84" x2="702.25" y2="850.44" stroke="#1c1c1c" stroke-width="1.8" />
<text transform="translate(702.25 881.74) scale(1 1.08)" text-anchor="middle" font-size="29.3" font-weight="normal" >60</text>
<line x1="769.55" y1="837.84" x2="769.55" y2="850.44" stroke="#1c1c1c" stroke-width="1.8" />
<text transform="translate(769.55 881.74) scale(1 1.08)" text-anchor="middle" font-size="29.3" font-weight="normal" >100</text>
<line x1="836.85" y1="837.84" x2="836.85" y2="850.44" stroke="#1c1c1c" stroke-width="1.8" />
<text transform="translate(836.85 881.74) scale(1 1.08)" text-anchor="middle" font-size="29.3" font-weight="normal" >140</text>
<line x1="904.15" y1="837.84" x2="904.15" y2="850.44" stroke="#1c1c1c" stroke-width="1.8" />
<text transform="translate(904.15 881.74) scale(1 1.08)" text-anchor="middle" font-size="29.3" font-weight="normal" >180</text>
<text transform="translate(736 920.5) scale(1 1.03)" text-anchor="middle" font-size="29.3" font-weight="normal" letter-spacing="0.28">Time (ms)</text>
<text x="0" y="0" text-anchor="middle" font-size="29.3" transform="translate(493.4,669.7) rotate(-90) scale(1 1.03)">PV (V)</text>
<path d="M567.65 550.3 L569.42 550.3 L571.19 550.3 L572.96 550.3 L574.73 550.3 L576.51 550.3 L578.28 550.3 L580.05 550.3 L581.82 550.3 L583.59 550.3 L585.36 550.3 L587.13 550.3 L588.9 550.3 L590.67 550.3 L592.44 550.3 L594.22 550.3 L595.99 550.3 L597.76 550.3 L599.53 550.3 L601.3 550.3 L601.3 550.3 L601.45 580.77 L601.59 609.89 L601.74 633.59 L601.89 647.84 L601.97 652.33 L602.37 669.16 L602.76 680.63 L603.15 688.68 L603.54 695.2 L603.94 700.84 L604.33 705.47 L604.72 709.33 L605.11 712.63 L605.51 715.64 L605.9 718.43 L606.29 720.91 L606.68 723 L607.08 724.64 L607.47 725.9 L607.86 727.09 L608.25 728.17 L608.65 729.09 L609.04 729.79 L609.43 730.21 L609.82 730.3 L610.22 730.29 L610.61 730.27 L611 730.24 L611.39 730.21 L611.79 730.16 L612.18 730.12 L612.57 730.07 L612.97 730.03 L613.36 729.98 L613.75 729.92 L614.14 729.86 L614.54 729.79 L614.93 729.71 L615.32 729.63 L615.71 729.54 L616.11 729.45 L616.5 729.35 L616.89 729.25 L617.28 729.15 L617.28 729.15 L617.49 729.08 L617.69 728.88 L617.89 717.52 L618.09 691.41 L618.29 669.34 L618.46 658.37 L619.03 628.8 L619.59 610.24 L620.16 597.32 L620.72 588.46 L621.28 582.69 L621.85 577.92 L622.41 574 L622.98 570.87 L623.54 568.45 L624.11 566.53 L624.67 564.81 L625.24 563.27 L625.8 561.91 L626.37 560.73 L626.93 559.73 L627.5 558.91 L628.06 558.26 L628.62 557.72 L629.19 557.21 L629.75 556.75 L630.32 556.33 L630.88 555.94 L631.45 555.59 L632.01 555.27 L632.58 554.98 L633.14 554.72 L633.71 554.48 L634.27 554.27 L634.84 554.08 L635.4 553.91 L635.97 553.74 L636.53 553.58 L637.09 553.43 L637.66 553.29 L638.22 553.15 L638.79 553.02 L639.35 552.9 L639.92 552.78 L640.48 552.67 L641.05 552.56 L641.61 552.46 L642.18 552.37 L642.74 552.29 L643.31 552.21 L643.87 552.13 L644.43 552.06 L645 552 L645.56 551.95 L646.13 551.89 L646.69 551.84 L647.26 551.79 L647.82 551.74 L648.39 551.7 L648.95 551.65 L649.52 551.6 L650.08 551.55 L650.65 551.51 L651.21 551.46 L651.77 551.42 L653.46 551.3 L657.71 551.03 L661.96 550.83 L666.2 550.71 L670.45 550.68 L674.7 550.66 L678.95 550.64 L683.2 550.62 L687.45 550.61 L691.7 550.59 L695.95 550.58 L700.2 550.56 L704.45 550.55 L708.69 550.54 L712.94 550.52 L717.19 550.51 L721.44 550.5 L725.69 550.49 L729.94 550.48 L734.19 550.47 L738.44 550.46 L742.69 550.45 L746.94 550.44 L751.19 550.43 L755.43 550.42 L759.68 550.41 L763.93 550.4 L768.18 550.39 L772.43 550.39 L776.68 550.38 L780.93 550.37 L785.18 550.37 L789.43 550.36 L793.68 550.36 L797.92 550.35 L802.17 550.35 L806.42 550.34 L810.67 550.34 L814.92 550.33 L819.17 550.33 L823.42 550.33 L827.67 550.32 L831.92 550.32 L836.17 550.32 L840.41 550.32 L844.66 550.31 L848.91 550.31 L853.16 550.31 L857.41 550.31 L861.66 550.31 L865.91 550.3 L870.16 550.3 L874.41 550.3 L878.66 550.3 L882.9 550.3 L887.15 550.3 L891.4 550.3 L895.65 550.3 L899.9 550.3 L904.15 550.3" fill="none" stroke="#000" stroke-width="1.9" stroke-linejoin="round" />
<line x1="603.45" y1="698.23" x2="603.59" y2="702.23" stroke="#000" stroke-width="1.85" stroke-linecap="butt"/>
<line x1="604.22" y1="719.09" x2="604.38" y2="723.09" stroke="#000" stroke-width="1.85" stroke-linecap="butt"/>
<line x1="605.07" y1="739.7" x2="605.25" y2="743.7" stroke="#000" stroke-width="1.85" stroke-linecap="butt"/>
<line x1="606.09" y1="760.59" x2="606.37" y2="764.57" stroke="#000" stroke-width="1.85" stroke-linecap="butt"/>
<line x1="607.75" y1="780.72" x2="608.12" y2="784.69" stroke="#000" stroke-width="1.85" stroke-linecap="butt"/>
<line x1="609.78" y1="800.59" x2="610.36" y2="804.53" stroke="#000" stroke-width="1.85" stroke-linecap="butt"/>
<line x1="613.27" y1="818.33" x2="615.61" y2="818.33" stroke="#000" stroke-width="1.85" stroke-linecap="butt"/>
<line x1="619.12" y1="816.2" x2="620.72" y2="812.71" stroke="#000" stroke-width="1.85" stroke-linecap="butt"/>
<line x1="623.46" y1="799.01" x2="624.44" y2="795.19" stroke="#000" stroke-width="1.85" stroke-linecap="butt"/>
<line x1="627.9" y1="782.71" x2="629.02" y2="778.95" stroke="#000" stroke-width="1.85" stroke-linecap="butt"/>
<line x1="632.78" y1="767.12" x2="634.11" y2="763.45" stroke="#000" stroke-width="1.85" stroke-linecap="butt"/>
<line x1="638.21" y1="753.77" x2="639.76" y2="750.24" stroke="#000" stroke-width="1.85" stroke-linecap="butt"/>
<line x1="643.98" y1="740.68" x2="645.64" y2="737.23" stroke="#000" stroke-width="1.85" stroke-linecap="butt"/>
<line x1="649.98" y1="729.28" x2="651.86" y2="726.01" stroke="#000" stroke-width="1.85" stroke-linecap="butt"/>
<line x1="656.24" y1="718.73" x2="658.18" y2="715.51" stroke="#000" stroke-width="1.85" stroke-linecap="butt"/>
<line x1="662.53" y1="708.5" x2="664.67" y2="705.5" stroke="#000" stroke-width="1.85" stroke-linecap="butt"/>
<line x1="669.18" y1="699.9" x2="671.37" y2="696.98" stroke="#000" stroke-width="1.85" stroke-linecap="butt"/>
<line x1="675.62" y1="690.86" x2="677.89" y2="688.04" stroke="#000" stroke-width="1.85" stroke-linecap="butt"/>
<line x1="682.37" y1="683.32" x2="684.87" y2="680.89" stroke="#000" stroke-width="1.85" stroke-linecap="butt"/>
<line x1="689.33" y1="676.64" x2="691.81" y2="674.18" stroke="#000" stroke-width="1.85" stroke-linecap="butt"/>
<line x1="696.17" y1="669.85" x2="698.69" y2="667.45" stroke="#000" stroke-width="1.85" stroke-linecap="butt"/>
<line x1="703.09" y1="663.5" x2="705.67" y2="661.26" stroke="#000" stroke-width="1.85" stroke-linecap="butt"/>
<line x1="710.12" y1="657.53" x2="712.74" y2="655.4" stroke="#000" stroke-width="1.85" stroke-linecap="butt"/>
<line x1="717.16" y1="651.87" x2="719.8" y2="649.82" stroke="#000" stroke-width="1.85" stroke-linecap="butt"/>
<line x1="724.19" y1="646.52" x2="726.86" y2="644.6" stroke="#000" stroke-width="1.85" stroke-linecap="butt"/>
<line x1="731.22" y1="641.6" x2="733.92" y2="639.81" stroke="#000" stroke-width="1.85" stroke-linecap="butt"/>
<line x1="738.36" y1="636.98" x2="741.07" y2="635.29" stroke="#000" stroke-width="1.85" stroke-linecap="butt"/>
<line x1="745.49" y1="632.6" x2="748.22" y2="630.99" stroke="#000" stroke-width="1.85" stroke-linecap="butt"/>
<line x1="752.63" y1="628.48" x2="755.37" y2="627" stroke="#000" stroke-width="1.85" stroke-linecap="butt"/>
<line x1="759.86" y1="624.72" x2="762.6" y2="623.41" stroke="#000" stroke-width="1.85" stroke-linecap="butt"/>
<line x1="767.1" y1="621.32" x2="769.84" y2="620.05" stroke="#000" stroke-width="1.85" stroke-linecap="butt"/>
<line x1="774.24" y1="617.97" x2="776.98" y2="616.69" stroke="#000" stroke-width="1.85" stroke-linecap="butt"/>
<line x1="781.48" y1="614.61" x2="784.21" y2="613.39" stroke="#000" stroke-width="1.85" stroke-linecap="butt"/>
<line x1="788.72" y1="611.47" x2="791.44" y2="610.35" stroke="#000" stroke-width="1.85" stroke-linecap="butt"/>
<line x1="795.96" y1="608.55" x2="798.67" y2="607.5" stroke="#000" stroke-width="1.85" stroke-linecap="butt"/>
<line x1="803.2" y1="605.81" x2="805.9" y2="604.82" stroke="#000" stroke-width="1.85" stroke-linecap="butt"/>
<line x1="810.44" y1="603.22" x2="813.14" y2="602.3" stroke="#000" stroke-width="1.85" stroke-linecap="butt"/>
<line x1="817.68" y1="600.78" x2="820.36" y2="599.92" stroke="#000" stroke-width="1.85" stroke-linecap="butt"/>
<line x1="824.92" y1="598.49" x2="827.6" y2="597.65" stroke="#000" stroke-width="1.85" stroke-linecap="butt"/>
<line x1="832.15" y1="596.18" x2="834.84" y2="595.29" stroke="#000" stroke-width="1.85" stroke-linecap="butt"/>
<line x1="839.49" y1="593.81" x2="842.15" y2="593.04" stroke="#000" stroke-width="1.85" stroke-linecap="butt"/>
<line x1="846.76" y1="591.93" x2="849.35" y2="591.38" stroke="#000" stroke-width="1.85" stroke-linecap="butt"/>
<line x1="854.1" y1="590.46" x2="856.68" y2="589.95" stroke="#000" stroke-width="1.85" stroke-linecap="butt"/>
<line x1="861.3" y1="588.94" x2="863.94" y2="588.27" stroke="#000" stroke-width="1.85" stroke-linecap="butt"/>
<line x1="868.53" y1="587.03" x2="871.18" y2="586.32" stroke="#000" stroke-width="1.85" stroke-linecap="butt"/>
<line x1="875.89" y1="585.2" x2="878.48" y2="584.68" stroke="#000" stroke-width="1.85" stroke-linecap="butt"/>
<line x1="883.14" y1="583.83" x2="885.7" y2="583.38" stroke="#000" stroke-width="1.85" stroke-linecap="butt"/>
<line x1="890.47" y1="582.51" x2="893.03" y2="582.04" stroke="#000" stroke-width="1.85" stroke-linecap="butt"/>
<line x1="897.7" y1="581.18" x2="900.27" y2="580.71" stroke="#000" stroke-width="1.85" stroke-linecap="butt"/>
<line x1="720.6" y1="817.3" x2="772.7" y2="817.3" stroke="#000" stroke-width="1.8" />
<line x1="720.6" y1="778.6" x2="725" y2="778.6" stroke="#000" stroke-width="1.8" />
<line x1="741.6" y1="778.6" x2="746" y2="778.6" stroke="#000" stroke-width="1.8" />
<line x1="762.1" y1="778.6" x2="766.5" y2="778.6" stroke="#000" stroke-width="1.8" />
<text transform="translate(791.5 787.1) scale(1 1.06)" text-anchor="start" font-size="29.3" font-weight="normal" >+ GOPS</text>
<text transform="translate(795 825.6) scale(1 1.06)" text-anchor="start" font-size="29.3" font-weight="normal" >- GOPS</text>
<line x1="1044.3" y1="21.08" x2="1044.3" y2="359.64" stroke="#1c1c1c" stroke-width="1.8" />
<line x1="1032.6" y1="21.98" x2="1045.2" y2="21.98" stroke="#1c1c1c" stroke-width="1.8" />
<line x1="1032.6" y1="70.09" x2="1045.2" y2="70.09" stroke="#1c1c1c" stroke-width="1.8" />
<text transform="translate(1028.3 78.19) scale(1 1.08)" text-anchor="end" font-size="29.3" font-weight="normal" >0</text>
<line x1="1032.6" y1="118.2" x2="1045.2" y2="118.2" stroke="#1c1c1c" stroke-width="1.8" />
<line x1="1032.6" y1="166.31" x2="1045.2" y2="166.31" stroke="#1c1c1c" stroke-width="1.8" />
<text transform="translate(1028.3 174.41) scale(1 1.08)" text-anchor="end" font-size="29.3" font-weight="normal" >-0.1</text>
<line x1="1032.6" y1="214.41" x2="1045.2" y2="214.41" stroke="#1c1c1c" stroke-width="1.8" />
<line x1="1032.6" y1="262.52" x2="1045.2" y2="262.52" stroke="#1c1c1c" stroke-width="1.8" />
<text transform="translate(1028.3 270.62) scale(1 1.08)" text-anchor="end" font-size="29.3" font-weight="normal" >-0.2</text>
<line x1="1032.6" y1="310.63" x2="1045.2" y2="310.63" stroke="#1c1c1c" stroke-width="1.8" />
<line x1="1032.6" y1="358.74" x2="1045.2" y2="358.74" stroke="#1c1c1c" stroke-width="1.8" />
<text transform="translate(1028.3 366.84) scale(1 1.08)" text-anchor="end" font-size="29.3" font-weight="normal" >-0.3</text>
<line x1="1032.6" y1="358.74" x2="1466.5" y2="358.74" stroke="#1c1c1c" stroke-width="1.8" />
<line x1="1052.9" y1="357.84" x2="1052.9" y2="370.44" stroke="#1c1c1c" stroke-width="1.8" />
<text transform="translate(1052.9 401.74) scale(1 1.08)" text-anchor="middle" font-size="29.3" font-weight="normal" >0</text>
<line x1="1135.5" y1="357.84" x2="1135.5" y2="370.44" stroke="#1c1c1c" stroke-width="1.8" />
<text transform="translate(1135.5 401.74) scale(1 1.08)" text-anchor="middle" font-size="29.3" font-weight="normal" >200</text>
<line x1="1218.1" y1="357.84" x2="1218.1" y2="370.44" stroke="#1c1c1c" stroke-width="1.8" />
<text transform="translate(1218.1 401.74) scale(1 1.08)" text-anchor="middle" font-size="29.3" font-weight="normal" >400</text>
<line x1="1300.7" y1="357.84" x2="1300.7" y2="370.44" stroke="#1c1c1c" stroke-width="1.8" />
<text transform="translate(1300.7 401.74) scale(1 1.08)" text-anchor="middle" font-size="29.3" font-weight="normal" >600</text>
<line x1="1383.3" y1="357.84" x2="1383.3" y2="370.44" stroke="#1c1c1c" stroke-width="1.8" />
<text transform="translate(1383.3 401.74) scale(1 1.08)" text-anchor="middle" font-size="29.3" font-weight="normal" >800</text>
<line x1="1465.9" y1="357.84" x2="1465.9" y2="370.44" stroke="#1c1c1c" stroke-width="1.8" />
<text transform="translate(1465.9 401.74) scale(1 1.08)" text-anchor="middle" font-size="29.3" font-weight="normal" >1000</text>
<text transform="translate(1255.5 440.5) scale(1 1.03)" text-anchor="middle" font-size="29.3" font-weight="normal" letter-spacing="0.28">Time (ms)</text>
<text x="0" y="0" text-anchor="middle" font-size="29.3" transform="translate(970.9,189.7) rotate(-90) scale(1 1.03)">PV (V)</text>
<text transform="translate(1200.3 30.5) scale(1 1.06)" text-anchor="start" font-size="29.3" font-weight="normal" >+ GOPS</text>
<path d="M1047.94 69.7 L1051.66 69.7 L1052.69 67.97 L1052.9 68.26 L1052.9 262.3 L1056.53 346.56 L1057.22 339.6 L1057.9 331.68 L1058.58 322.87 L1059.26 312.3 L1059.94 301.12 L1060.62 291.12 L1061.3 282.11 L1061.98 273.56 L1062.66 265.61 L1063.34 258.42 L1064.02 252.07 L1064.7 246.3 L1065.38 240.98 L1066.06 235.97 L1066.74 231.18 L1067.42 226.46 L1068.11 221.76 L1068.79 217.14 L1069.47 212.62 L1070.15 208.2 L1070.83 203.89 L1071.51 199.7 L1072.19 195.65 L1072.87 191.73 L1073.55 187.96 L1073.55 236.11 L1077.51 347.72 L1078.18 332.64 L1078.85 318.78 L1079.52 306.15 L1080.18 294.19 L1080.85 283.45 L1081.52 274.45 L1082.19 266.49 L1082.85 259.19 L1083.52 252.53 L1084.19 246.46 L1084.86 240.94 L1085.52 235.91 L1086.19 231.26 L1086.86 226.92 L1087.53 222.88 L1088.19 219.08 L1088.86 215.5 L1089.53 212.09 L1090.2 208.83 L1090.86 205.71 L1091.53 202.72 L1092.2 199.9 L1092.87 197.24 L1093.53 194.77 L1094.2 192.48 L1094.2 242.32 L1098.16 348.87 L1098.83 333.79 L1099.5 319.93 L1100.17 307.3 L1100.83 295.34 L1101.5 284.6 L1102.17 275.6 L1102.84 267.64 L1103.5 260.35 L1104.17 253.69 L1104.84 247.62 L1105.51 242.09 L1106.17 237.07 L1106.84 232.44 L1107.51 228.15 L1108.18 224.15 L1108.84 220.37 L1109.51 216.79 L1110.18 213.34 L1110.85 209.97 L1111.51 206.71 L1112.18 203.57 L1112.85 200.57 L1113.52 197.72 L1114.18 195.02 L1114.85 192.48 L1114.85 242.32 L1118.81 350.03 L1119.48 334.95 L1120.15 321.09 L1120.82 308.46 L1121.48 296.5 L1122.15 285.76 L1122.82 276.76 L1123.49 268.8 L1124.15 261.51 L1124.82 254.84 L1125.49 248.77 L1126.16 243.25 L1126.82 238.23 L1127.49 233.63 L1128.16 229.38 L1128.83 225.41 L1129.49 221.66 L1130.16 218.07 L1130.83 214.58 L1131.5 211.11 L1132.16 207.71 L1132.83 204.43 L1133.5 201.26 L1134.17 198.21 L1134.83 195.28 L1135.5 192.48 L1135.5 242.32 L1139.46 349.58 L1140.13 334.5 L1140.8 320.64 L1141.47 308.01 L1142.13 296.05 L1142.8 285.31 L1143.47 276.31 L1144.14 268.35 L1144.8 261.05 L1145.47 254.39 L1146.14 248.32 L1146.81 242.8 L1147.47 237.78 L1148.14 233.17 L1148.81 228.9 L1149.48 224.92 L1150.14 221.16 L1150.81 217.57 L1151.48 214.09 L1152.15 210.67 L1152.81 207.32 L1153.48 204.09 L1154.15 200.99 L1154.82 198.02 L1155.48 195.18 L1156.15 192.48 L1156.15 242.32 L1160.11 349.13 L1160.78 334.04 L1161.45 320.18 L1162.12 307.56 L1162.78 295.6 L1163.45 284.86 L1164.12 275.86 L1164.79 267.89 L1165.45 260.6 L1166.12 253.94 L1166.79 247.87 L1167.46 242.35 L1168.12 237.32 L1168.79 232.7 L1169.46 228.42 L1170.13 224.42 L1170.79 220.66 L1171.46 217.07 L1172.13 213.61 L1172.8 210.22 L1173.46 206.93 L1174.13 203.76 L1174.8 200.72 L1175.47 197.83 L1176.13 195.08 L1176.8 192.48 L1176.8 242.32 L1180.76 348.68 L1181.43 333.59 L1182.1 319.73 L1182.77 307.11 L1183.43 295.15 L1184.1 284.41 L1184.77 275.41 L1185.44 267.44 L1186.1 260.15 L1186.77 253.49 L1187.44 247.42 L1188.11 241.9 L1188.77 236.87 L1189.44 232.24 L1190.11 227.94 L1190.78 223.93 L1191.44 220.15 L1192.11 216.57 L1192.78 213.12 L1193.45 209.78 L1194.11 206.53 L1194.78 203.43 L1195.45 200.46 L1196.12 197.64 L1196.78 194.98 L1197.45 192.48 L1197.45 242.32 L1201.41 348.22 L1202.08 333.14 L1202.75 319.28 L1203.42 306.65 L1204.08 294.69 L1204.75 283.95 L1205.42 274.95 L1206.09 266.99 L1206.75 259.7 L1207.42 253.04 L1208.09 246.97 L1208.76 241.44 L1209.42 236.42 L1210.09 231.78 L1210.76 227.46 L1211.43 223.43 L1212.09 219.65 L1212.76 216.06 L1213.43 212.64 L1214.1 209.33 L1214.76 206.14 L1215.43 203.09 L1216.1 200.19 L1216.77 197.45 L1217.43 194.88 L1218.1 192.48 L1218.1 242.32 L1222.06 347.77 L1222.73 332.69 L1223.4 318.83 L1224.07 306.2 L1224.73 294.24 L1225.4 283.5 L1226.07 274.5 L1226.74 266.54 L1227.4 259.25 L1228.07 252.59 L1228.74 246.52 L1229.41 240.99 L1230.07 235.97 L1230.74 231.31 L1231.41 226.98 L1232.08 222.94 L1232.74 219.14 L1233.41 215.56 L1234.08 212.15 L1234.75 208.89 L1235.41 205.75 L1236.08 202.76 L1236.75 199.93 L1237.42 197.26 L1238.08 194.78 L1238.75 192.48 L1238.75 242.32 L1242.71 347.32 L1243.38 332.24 L1244.05 318.38 L1244.72 305.75 L1245.38 293.79 L1246.05 283.05 L1246.72 274.05 L1247.39 266.09 L1248.05 258.8 L1248.72 252.14 L1249.39 246.06 L1250.06 240.54 L1250.72 235.51 L1251.39 230.85 L1252.06 226.5 L1252.73 222.44 L1253.39 218.63 L1254.06 215.05 L1254.73 211.66 L1255.4 208.44 L1256.06 205.36 L1256.73 202.43 L1257.4 199.67 L1258.07 197.08 L1258.73 194.68 L1259.4 192.48 L1259.4 242.32 L1263.36 346.87 L1264.03 331.79 L1264.7 317.93 L1265.37 305.3 L1266.03 293.34 L1266.7 282.6 L1267.37 273.6 L1268.04 265.64 L1268.7 258.35 L1269.37 251.68 L1270.04 245.61 L1270.71 240.09 L1271.37 235.06 L1272.04 230.38 L1272.71 226.02 L1273.38 221.94 L1274.04 218.12 L1274.71 214.54 L1275.38 211.18 L1276.05 208 L1276.71 204.97 L1277.38 202.1 L1278.05 199.4 L1278.72 196.89 L1279.38 194.58 L1280.05 192.48 L1280.05 242.32 L1284.01 346.42 L1284.68 331.34 L1285.35 317.48 L1286.02 304.85 L1286.68 292.89 L1287.35 282.15 L1288.02 273.15 L1288.69 265.19 L1289.35 257.89 L1290.02 251.23 L1290.69 245.16 L1291.36 239.64 L1292.02 234.61 L1292.69 229.92 L1293.36 225.54 L1294.03 221.44 L1294.69 217.61 L1295.36 214.03 L1296.03 210.69 L1296.7 207.55 L1297.36 204.59 L1298.03 201.78 L1298.7 199.14 L1299.37 196.71 L1300.03 194.48 L1300.7 192.48 L1300.7 242.32 L1304.66 345.97 L1305.33 330.88 L1306 317.02 L1306.67 304.4 L1307.33 292.44 L1308 281.7 L1308.67 272.7 L1309.34 264.73 L1310 257.44 L1310.67 250.78 L1311.34 244.71 L1312.01 239.19 L1312.67 234.15 L1313.34 229.45 L1314.01 225.05 L1314.68 220.94 L1315.34 217.1 L1316.01 213.52 L1316.68 210.2 L1317.35 207.11 L1318.01 204.2 L1318.68 201.45 L1319.35 198.88 L1320.02 196.52 L1320.68 194.38 L1321.35 192.48 L1321.35 242.32 L1325.31 345.52 L1325.98 330.43 L1326.65 316.57 L1327.32 303.95 L1327.98 291.99 L1328.65 281.25 L1329.32 272.25 L1329.99 264.28 L1330.65 256.99 L1331.32 250.33 L1331.99 244.26 L1332.66 238.74 L1333.32 233.7 L1333.99 228.99 L1334.66 224.57 L1335.33 220.44 L1335.99 216.59 L1336.66 213.01 L1337.33 209.71 L1338 206.67 L1338.66 203.81 L1339.33 201.12 L1340 198.62 L1340.67 196.34 L1341.33 194.28 L1342 192.48 L1342 242.32 L1345.96 345.06 L1346.63 329.98 L1347.3 316.12 L1347.97 303.49 L1348.63 291.53 L1349.3 280.79 L1349.97 271.79 L1350.64 263.83 L1351.3 256.54 L1351.97 249.88 L1352.64 243.81 L1353.31 238.28 L1353.97 233.25 L1354.64 228.52 L1355.31 224.09 L1355.98 219.94 L1356.64 216.07 L1357.31 212.5 L1357.98 209.22 L1358.65 206.22 L1359.31 203.43 L1359.98 200.8 L1360.65 198.37 L1361.32 196.15 L1361.98 194.18 L1362.65 192.48 L1362.65 242.32 L1366.61 344.61 L1367.28 329.53 L1367.95 315.67 L1368.62 303.04 L1369.28 291.08 L1369.95 280.34 L1370.62 271.34 L1371.29 263.38 L1371.95 256.09 L1372.62 249.43 L1373.29 243.36 L1373.96 237.83 L1374.62 232.79 L1375.29 228.06 L1375.96 223.6 L1376.63 219.43 L1377.29 215.56 L1377.96 211.99 L1378.63 208.72 L1379.3 205.78 L1379.96 203.04 L1380.63 200.48 L1381.3 198.11 L1381.97 195.97 L1382.63 194.08 L1383.3 192.48 L1383.3 242.32 L1387.26 344.16 L1387.93 329.08 L1388.6 315.22 L1389.27 302.59 L1389.93 290.63 L1390.6 279.89 L1391.27 270.89 L1391.94 262.93 L1392.6 255.64 L1393.27 248.98 L1393.94 242.9 L1394.61 237.38 L1395.27 232.34 L1395.94 227.59 L1396.61 223.12 L1397.28 218.93 L1397.94 215.04 L1398.61 211.47 L1399.28 208.23 L1399.95 205.33 L1400.61 202.66 L1401.28 200.16 L1401.95 197.85 L1402.62 195.78 L1403.28 193.98 L1403.95 192.48 L1403.95 242.32 L1407.91 343.71 L1408.58 328.63 L1409.25 314.77 L1409.92 302.14 L1410.58 290.18 L1411.25 279.44 L1411.92 270.44 L1412.59 262.48 L1413.25 255.19 L1413.92 248.52 L1414.59 242.45 L1415.26 236.93 L1415.92 231.89 L1416.59 227.12 L1417.26 222.63 L1417.93 218.42 L1418.59 214.52 L1419.26 210.95 L1419.93 207.74 L1420.6 204.89 L1421.26 202.28 L1421.93 199.84 L1422.6 197.6 L1423.27 195.6 L1423.93 193.88 L1424.6 192.48 L1424.6 242.32 L1428.56 343.26 L1429.23 328.18 L1429.9 314.32 L1430.57 301.69 L1431.23 289.73 L1431.9 278.99 L1432.57 269.99 L1433.24 262.03 L1433.9 254.73 L1434.57 248.07 L1435.24 242 L1435.91 236.48 L1436.57 231.43 L1437.24 226.66 L1437.91 222.14 L1438.58 217.91 L1439.24 214 L1439.91 210.43 L1440.58 207.24 L1441.25 204.45 L1441.91 201.9 L1442.58 199.52 L1443.25 197.34 L1443.92 195.42 L1444.58 193.79 L1445.25 192.48 L1445.25 242.32 L1449.21 342.81 L1449.72 332.47 L1450.22 322.66 L1450.72 313.57 L1451.22 304.94 L1451.73 296.6 L1452.23 288.81 L1452.73 281.81 L1453.23 275.76 L1453.73 270.25 L1454.24 265.11 L1454.74 260.31 L1455.24 255.82 L1455.74 251.59 L1456.25 247.58 L1456.75 243.76 L1457.25 240.09 L1457.75 236.56 L1458.25 233.18 L1458.76 229.94 L1459.26 226.82 L1459.76 223.82 L1460.26 220.94 L1460.77 218.16 L1461.27 215.47 L1461.77 212.88" fill="none" stroke="#000" stroke-width="1.7" stroke-linejoin="round" />
<line x1="1044.3" y1="501.22" x2="1044.3" y2="839.64" stroke="#1c1c1c" stroke-width="1.8" />
<line x1="1032.6" y1="502.12" x2="1045.2" y2="502.12" stroke="#1c1c1c" stroke-width="1.8" />
<line x1="1032.6" y1="550.21" x2="1045.2" y2="550.21" stroke="#1c1c1c" stroke-width="1.8" />
<text transform="translate(1028.3 558.31) scale(1 1.08)" text-anchor="end" font-size="29.3" font-weight="normal" >0</text>
<line x1="1032.6" y1="598.3" x2="1045.2" y2="598.3" stroke="#1c1c1c" stroke-width="1.8" />
<line x1="1032.6" y1="646.39" x2="1045.2" y2="646.39" stroke="#1c1c1c" stroke-width="1.8" />
<text transform="translate(1028.3 654.49) scale(1 1.08)" text-anchor="end" font-size="29.3" font-weight="normal" >-0.1</text>
<line x1="1032.6" y1="694.47" x2="1045.2" y2="694.47" stroke="#1c1c1c" stroke-width="1.8" />
<line x1="1032.6" y1="742.56" x2="1045.2" y2="742.56" stroke="#1c1c1c" stroke-width="1.8" />
<text transform="translate(1028.3 750.66) scale(1 1.08)" text-anchor="end" font-size="29.3" font-weight="normal" >-0.2</text>
<line x1="1032.6" y1="790.65" x2="1045.2" y2="790.65" stroke="#1c1c1c" stroke-width="1.8" />
<line x1="1032.6" y1="838.74" x2="1045.2" y2="838.74" stroke="#1c1c1c" stroke-width="1.8" />
<text transform="translate(1028.3 846.84) scale(1 1.08)" text-anchor="end" font-size="29.3" font-weight="normal" >-0.3</text>
<line x1="1032.6" y1="838.74" x2="1466.5" y2="838.74" stroke="#1c1c1c" stroke-width="1.8" />
<line x1="1052.9" y1="837.84" x2="1052.9" y2="850.44" stroke="#1c1c1c" stroke-width="1.8" />
<text transform="translate(1052.9 881.74) scale(1 1.08)" text-anchor="middle" font-size="29.3" font-weight="normal" >0</text>
<line x1="1135.5" y1="837.84" x2="1135.5" y2="850.44" stroke="#1c1c1c" stroke-width="1.8" />
<text transform="translate(1135.5 881.74) scale(1 1.08)" text-anchor="middle" font-size="29.3" font-weight="normal" >200</text>
<line x1="1218.1" y1="837.84" x2="1218.1" y2="850.44" stroke="#1c1c1c" stroke-width="1.8" />
<text transform="translate(1218.1 881.74) scale(1 1.08)" text-anchor="middle" font-size="29.3" font-weight="normal" >400</text>
<line x1="1300.7" y1="837.84" x2="1300.7" y2="850.44" stroke="#1c1c1c" stroke-width="1.8" />
<text transform="translate(1300.7 881.74) scale(1 1.08)" text-anchor="middle" font-size="29.3" font-weight="normal" >600</text>
<line x1="1383.3" y1="837.84" x2="1383.3" y2="850.44" stroke="#1c1c1c" stroke-width="1.8" />
<text transform="translate(1383.3 881.74) scale(1 1.08)" text-anchor="middle" font-size="29.3" font-weight="normal" >800</text>
<line x1="1465.9" y1="837.84" x2="1465.9" y2="850.44" stroke="#1c1c1c" stroke-width="1.8" />
<text transform="translate(1465.9 881.74) scale(1 1.08)" text-anchor="middle" font-size="29.3" font-weight="normal" >1000</text>
<text transform="translate(1255.5 920.5) scale(1 1.03)" text-anchor="middle" font-size="29.3" font-weight="normal" letter-spacing="0.28">Time (ms)</text>
<text x="0" y="0" text-anchor="middle" font-size="29.3" transform="translate(970.9,669.7) rotate(-90) scale(1 1.03)">PV (V)</text>
<text transform="translate(1204.3 510.3) scale(1 1.06)" text-anchor="start" font-size="29.3" font-weight="normal" >- GOPS</text>
<path d="M1048.56 550.2 L1051.25 550.68 L1052.49 552.12 L1052.9 552.12 L1053.22 683.54 L1053.54 713.8 L1053.85 728.77 L1054.17 735.15 L1054.49 738.33 L1054.81 739.32 L1055.12 739.26 L1055.44 739.13 L1055.76 738.96 L1056.08 738.75 L1056.39 738.36 L1056.71 737.53 L1057.03 720.41 L1057.11 706.07 L1057.68 605.39 L1058.25 575.73 L1058.81 565.48 L1059.38 560.62 L1059.95 557.58 L1060.51 556.12 L1061.08 555.3 L1061.65 554.71 L1062.21 554.26 L1062.78 553.87 L1063.35 553.47 L1063.91 553.1 L1064.48 552.79 L1065.05 552.62 L1065.61 552.63 L1066.18 552.82 L1066.75 553.08 L1067.32 553.35 L1067.88 553.64 L1068.45 553.99 L1069.02 554.26 L1069.58 554.31 L1070.15 554 L1070.72 553.49 L1071.28 553.01 L1071.85 552.71 L1072.42 552.45 L1072.98 552.24 L1073.55 552.08 L1073.55 552.12 L1073.87 682.43 L1074.19 712.44 L1074.5 727.29 L1074.82 733.62 L1075.14 736.77 L1075.46 737.75 L1075.77 737.7 L1076.09 737.57 L1076.41 737.4 L1076.73 737.19 L1077.04 736.8 L1077.36 735.98 L1077.68 719 L1077.76 705.03 L1078.33 605.39 L1078.9 575.73 L1079.46 565.48 L1080.03 560.62 L1080.6 557.58 L1081.16 556.12 L1081.73 555.3 L1082.3 554.71 L1082.86 554.26 L1083.43 553.87 L1084 553.47 L1084.56 553.1 L1085.13 552.79 L1085.7 552.62 L1086.26 552.63 L1086.83 552.82 L1087.4 553.08 L1087.97 553.35 L1088.53 553.64 L1089.1 553.99 L1089.67 554.26 L1090.23 554.31 L1090.8 554 L1091.37 553.49 L1091.93 553.01 L1092.5 552.71 L1093.07 552.45 L1093.63 552.24 L1094.2 552.08 L1094.2 552.12 L1094.52 681.53 L1094.84 711.33 L1095.15 726.08 L1095.47 732.37 L1095.79 735.49 L1096.11 736.47 L1096.42 736.41 L1096.74 736.29 L1097.06 736.12 L1097.38 735.91 L1097.69 735.52 L1098.01 734.71 L1098.33 717.84 L1098.41 704.17 L1098.98 605.39 L1099.55 575.73 L1100.11 565.48 L1100.68 560.62 L1101.25 557.58 L1101.81 556.12 L1102.38 555.3 L1102.95 554.71 L1103.51 554.26 L1104.08 553.87 L1104.65 553.47 L1105.21 553.1 L1105.78 552.79 L1106.35 552.62 L1106.91 552.63 L1107.48 552.82 L1108.05 553.08 L1108.62 553.35 L1109.18 553.64 L1109.75 553.99 L1110.32 554.26 L1110.88 554.31 L1111.45 554 L1112.02 553.49 L1112.58 553.01 L1113.15 552.71 L1113.72 552.45 L1114.28 552.24 L1114.85 552.08 L1114.85 552.12 L1115.17 680.79 L1115.49 710.42 L1115.8 725.09 L1116.12 731.34 L1116.44 734.45 L1116.76 735.42 L1117.07 735.36 L1117.39 735.24 L1117.71 735.07 L1118.03 734.87 L1118.34 734.48 L1118.66 733.67 L1118.98 716.9 L1119.06 703.48 L1119.63 605.39 L1120.2 575.73 L1120.76 565.48 L1121.33 560.62 L1121.9 557.58 L1122.46 556.12 L1123.03 555.3 L1123.6 554.71 L1124.16 554.26 L1124.73 553.87 L1125.3 553.47 L1125.86 553.1 L1126.43 552.79 L1127 552.62 L1127.56 552.63 L1128.13 552.82 L1128.7 553.08 L1129.27 553.35 L1129.83 553.64 L1130.4 553.99 L1130.97 554.26 L1131.53 554.31 L1132.1 554 L1132.67 553.49 L1133.23 553.01 L1133.8 552.71 L1134.37 552.45 L1134.93 552.24 L1135.5 552.08 L1135.5 552.12 L1135.82 680.18 L1136.14 709.68 L1136.45 724.28 L1136.77 730.5 L1137.09 733.6 L1137.41 734.56 L1137.72 734.51 L1138.04 734.38 L1138.36 734.21 L1138.68 734.01 L1138.99 733.63 L1139.31 732.82 L1139.63 716.13 L1139.71 702.9 L1140.28 605.39 L1140.85 575.73 L1141.41 565.48 L1141.98 560.62 L1142.55 557.58 L1143.11 556.12 L1143.68 555.3 L1144.25 554.71 L1144.81 554.26 L1145.38 553.87 L1145.95 553.47 L1146.51 553.1 L1147.08 552.79 L1147.65 552.62 L1148.21 552.63 L1148.78 552.82 L1149.35 553.08 L1149.92 553.35 L1150.48 553.64 L1151.05 553.99 L1151.62 554.26 L1152.18 554.31 L1152.75 554 L1153.32 553.49 L1153.88 553.01 L1154.45 552.71 L1155.02 552.45 L1155.58 552.24 L1156.15 552.08 L1156.15 552.12 L1156.47 679.69 L1156.79 709.07 L1157.1 723.61 L1157.42 729.81 L1157.74 732.9 L1158.06 733.86 L1158.37 733.8 L1158.69 733.68 L1159.01 733.51 L1159.33 733.31 L1159.64 732.92 L1159.96 732.12 L1160.28 715.49 L1160.36 702.43 L1160.93 605.39 L1161.5 575.73 L1162.06 565.48 L1162.63 560.62 L1163.2 557.58 L1163.76 556.12 L1164.33 555.3 L1164.9 554.71 L1165.46 554.26 L1166.03 553.87 L1166.6 553.47 L1167.16 553.1 L1167.73 552.79 L1168.3 552.62 L1168.86 552.63 L1169.43 552.82 L1170 553.08 L1170.57 553.35 L1171.13 553.64 L1171.7 553.99 L1172.27 554.26 L1172.83 554.31 L1173.4 554 L1173.97 553.49 L1174.53 553.01 L1175.1 552.71 L1175.67 552.45 L1176.23 552.24 L1176.8 552.08 L1176.8 552.12 L1177.12 679.28 L1177.44 708.57 L1177.75 723.07 L1178.07 729.25 L1178.39 732.32 L1178.71 733.28 L1179.02 733.23 L1179.34 733.1 L1179.66 732.93 L1179.98 732.73 L1180.29 732.35 L1180.61 731.55 L1180.93 714.97 L1181.01 702.05 L1181.58 605.39 L1182.15 575.73 L1182.71 565.48 L1183.28 560.62 L1183.85 557.58 L1184.41 556.12 L1184.98 555.3 L1185.55 554.71 L1186.11 554.26 L1186.68 553.87 L1187.25 553.47 L1187.81 553.1 L1188.38 552.79 L1188.95 552.62 L1189.51 552.63 L1190.08 552.82 L1190.65 553.08 L1191.22 553.35 L1191.78 553.64 L1192.35 553.99 L1192.92 554.26 L1193.48 554.31 L1194.05 554 L1194.62 553.49 L1195.18 553.01 L1195.75 552.71 L1196.32 552.45 L1196.88 552.24 L1197.45 552.08 L1197.45 552.12 L1197.77 678.95 L1198.09 708.16 L1198.4 722.62 L1198.72 728.79 L1199.04 731.85 L1199.36 732.81 L1199.67 732.75 L1199.99 732.63 L1200.31 732.46 L1200.63 732.26 L1200.94 731.88 L1201.26 731.08 L1201.58 714.55 L1201.66 701.74 L1202.23 605.39 L1202.8 575.73 L1203.36 565.48 L1203.93 560.62 L1204.5 557.58 L1205.06 556.12 L1205.63 555.3 L1206.2 554.71 L1206.76 554.26 L1207.33 553.87 L1207.9 553.47 L1208.46 553.1 L1209.03 552.79 L1209.6 552.62 L1210.16 552.63 L1210.73 552.82 L1211.3 553.08 L1211.87 553.35 L1212.43 553.64 L1213 553.99 L1213.57 554.26 L1214.13 554.31 L1214.7 554 L1215.27 553.49 L1215.83 553.01 L1216.4 552.71 L1216.97 552.45 L1217.53 552.24 L1218.1 552.08 L1218.1 552.12 L1218.42 678.68 L1218.74 707.83 L1219.05 722.26 L1219.37 728.41 L1219.69 731.47 L1220.01 732.42 L1220.32 732.37 L1220.64 732.25 L1220.96 732.08 L1221.28 731.88 L1221.59 731.5 L1221.91 730.7 L1222.23 714.2 L1222.31 701.48 L1222.88 605.39 L1223.45 575.73 L1224.01 565.48 L1224.58 560.62 L1225.15 557.58 L1225.71 556.12 L1226.28 555.3 L1226.85 554.71 L1227.41 554.26 L1227.98 553.87 L1228.55 553.47 L1229.11 553.1 L1229.68 552.79 L1230.25 552.62 L1230.81 552.63 L1231.38 552.82 L1231.95 553.08 L1232.52 553.35 L1233.08 553.64 L1233.65 553.99 L1234.22 554.26 L1234.78 554.31 L1235.35 554 L1235.92 553.49 L1236.48 553.01 L1237.05 552.71 L1237.62 552.45 L1238.18 552.24 L1238.75 552.08 L1238.75 552.12 L1239.07 678.45 L1239.39 707.56 L1239.7 721.96 L1240.02 728.1 L1240.34 731.15 L1240.66 732.11 L1240.97 732.05 L1241.29 731.93 L1241.61 731.76 L1241.93 731.56 L1242.24 731.18 L1242.56 730.39 L1242.88 713.92 L1242.96 701.27 L1243.53 605.39 L1244.1 575.73 L1244.66 565.48 L1245.23 560.62 L1245.8 557.58 L1246.36 556.12 L1246.93 555.3 L1247.5 554.71 L1248.06 554.26 L1248.63 553.87 L1249.2 553.47 L1249.76 553.1 L1250.33 552.79 L1250.9 552.62 L1251.46 552.63 L1252.03 552.82 L1252.6 553.08 L1253.17 553.35 L1253.73 553.64 L1254.3 553.99 L1254.87 554.26 L1255.43 554.31 L1256 554 L1256.57 553.49 L1257.13 553.01 L1257.7 552.71 L1258.27 552.45 L1258.83 552.24 L1259.4 552.08 L1259.4 552.12 L1259.72 678.27 L1260.04 707.33 L1260.35 721.72 L1260.67 727.85 L1260.99 730.9 L1261.31 731.85 L1261.62 731.79 L1261.94 731.67 L1262.26 731.5 L1262.58 731.31 L1262.89 730.93 L1263.21 730.13 L1263.53 713.68 L1263.61 701.1 L1264.18 605.39 L1264.75 575.73 L1265.31 565.48 L1265.88 560.62 L1266.45 557.58 L1267.01 556.12 L1267.58 555.3 L1268.15 554.71 L1268.71 554.26 L1269.28 553.87 L1269.85 553.47 L1270.41 553.1 L1270.98 552.79 L1271.55 552.62 L1272.11 552.63 L1272.68 552.82 L1273.25 553.08 L1273.82 553.35 L1274.38 553.64 L1274.95 553.99 L1275.52 554.26 L1276.08 554.31 L1276.65 554 L1277.22 553.49 L1277.78 553.01 L1278.35 552.71 L1278.92 552.45 L1279.48 552.24 L1280.05 552.08 L1280.05 552.12 L1280.37 678.12 L1280.69 707.15 L1281 721.52 L1281.32 727.64 L1281.64 730.69 L1281.96 731.64 L1282.27 731.58 L1282.59 731.46 L1282.91 731.29 L1283.23 731.09 L1283.54 730.72 L1283.86 729.92 L1284.18 713.49 L1284.26 700.95 L1284.83 605.39 L1285.4 575.73 L1285.96 565.48 L1286.53 560.62 L1287.1 557.58 L1287.66 556.12 L1288.23 555.3 L1288.8 554.71 L1289.36 554.26 L1289.93 553.87 L1290.5 553.47 L1291.06 553.1 L1291.63 552.79 L1292.2 552.62 L1292.76 552.63 L1293.33 552.82 L1293.9 553.08 L1294.47 553.35 L1295.03 553.64 L1295.6 553.99 L1296.17 554.26 L1296.73 554.31 L1297.3 554 L1297.87 553.49 L1298.43 553.01 L1299 552.71 L1299.57 552.45 L1300.13 552.24 L1300.7 552.08 L1300.7 552.12 L1301.02 678 L1301.34 707 L1301.65 721.35 L1301.97 727.47 L1302.29 730.51 L1302.61 731.46 L1302.92 731.41 L1303.24 731.29 L1303.56 731.12 L1303.88 730.92 L1304.19 730.54 L1304.51 729.75 L1304.83 713.34 L1304.91 700.84 L1305.48 605.39 L1306.05 575.73 L1306.61 565.48 L1307.18 560.62 L1307.75 557.58 L1308.31 556.12 L1308.88 555.3 L1309.45 554.71 L1310.01 554.26 L1310.58 553.87 L1311.15 553.47 L1311.71 553.1 L1312.28 552.79 L1312.85 552.62 L1313.41 552.63 L1313.98 552.82 L1314.55 553.08 L1315.12 553.35 L1315.68 553.64 L1316.25 553.99 L1316.82 554.26 L1317.38 554.31 L1317.95 554 L1318.52 553.49 L1319.08 553.01 L1319.65 552.71 L1320.22 552.45 L1320.78 552.24 L1321.35 552.08 L1321.35 552.12 L1321.67 677.9 L1321.99 706.88 L1322.3 721.22 L1322.62 727.33 L1322.94 730.37 L1323.26 731.32 L1323.57 731.27 L1323.89 731.14 L1324.21 730.98 L1324.53 730.78 L1324.84 730.4 L1325.16 729.61 L1325.48 713.21 L1325.56 700.74 L1326.13 605.39 L1326.7 575.73 L1327.26 565.48 L1327.83 560.62 L1328.4 557.58 L1328.96 556.12 L1329.53 555.3 L1330.1 554.71 L1330.66 554.26 L1331.23 553.87 L1331.8 553.47 L1332.36 553.1 L1332.93 552.79 L1333.5 552.62 L1334.06 552.63 L1334.63 552.82 L1335.2 553.08 L1335.77 553.35 L1336.33 553.64 L1336.9 553.99 L1337.47 554.26 L1338.03 554.31 L1338.6 554 L1339.17 553.49 L1339.73 553.01 L1340.3 552.71 L1340.87 552.45 L1341.43 552.24 L1342 552.08 L1342 552.12 L1342.32 677.82 L1342.64 706.78 L1342.95 721.11 L1343.27 727.22 L1343.59 730.26 L1343.91 731.2 L1344.22 731.15 L1344.54 731.03 L1344.86 730.86 L1345.18 730.66 L1345.49 730.29 L1345.81 729.49 L1346.13 713.1 L1346.21 700.67 L1346.78 605.39 L1347.35 575.73 L1347.91 565.48 L1348.48 560.62 L1349.05 557.58 L1349.61 556.12 L1350.18 555.3 L1350.75 554.71 L1351.31 554.26 L1351.88 553.87 L1352.45 553.47 L1353.01 553.1 L1353.58 552.79 L1354.15 552.62 L1354.71 552.63 L1355.28 552.82 L1355.85 553.08 L1356.42 553.35 L1356.98 553.64 L1357.55 553.99 L1358.12 554.26 L1358.68 554.31 L1359.25 554 L1359.82 553.49 L1360.38 553.01 L1360.95 552.71 L1361.52 552.45 L1362.08 552.24 L1362.65 552.08 L1362.65 552.12 L1362.97 677.75 L1363.29 706.69 L1363.6 721.02 L1363.92 727.12 L1364.24 730.16 L1364.56 731.11 L1364.87 731.05 L1365.19 730.93 L1365.51 730.77 L1365.83 730.57 L1366.14 730.19 L1366.46 729.4 L1366.78 713.02 L1366.86 700.6 L1367.43 605.39 L1368 575.73 L1368.56 565.48 L1369.13 560.62 L1369.7 557.58 L1370.26 556.12 L1370.83 555.3 L1371.4 554.71 L1371.96 554.26 L1372.53 553.87 L1373.1 553.47 L1373.66 553.1 L1374.23 552.79 L1374.8 552.62 L1375.36 552.63 L1375.93 552.82 L1376.5 553.08 L1377.07 553.35 L1377.63 553.64 L1378.2 553.99 L1378.77 554.26 L1379.33 554.31 L1379.9 554 L1380.47 553.49 L1381.03 553.01 L1381.6 552.71 L1382.17 552.45 L1382.73 552.24 L1383.3 552.08 L1383.3 552.12 L1383.62 677.69 L1383.94 706.63 L1384.25 720.94 L1384.57 727.05 L1384.89 730.08 L1385.21 731.03 L1385.52 730.98 L1385.84 730.85 L1386.16 730.69 L1386.48 730.49 L1386.79 730.11 L1387.11 729.32 L1387.43 712.95 L1387.51 700.55 L1388.08 605.39 L1388.65 575.73 L1389.21 565.48 L1389.78 560.62 L1390.35 557.58 L1390.91 556.12 L1391.48 555.3 L1392.05 554.71 L1392.61 554.26 L1393.18 553.87 L1393.75 553.47 L1394.31 553.1 L1394.88 552.79 L1395.45 552.62 L1396.01 552.63 L1396.58 552.82 L1397.15 553.08 L1397.72 553.35 L1398.28 553.64 L1398.85 553.99 L1399.42 554.26 L1399.98 554.31 L1400.55 554 L1401.12 553.49 L1401.68 553.01 L1402.25 552.71 L1402.82 552.45 L1403.38 552.24 L1403.95 552.08 L1403.95 552.12 L1404.27 677.65 L1404.59 706.57 L1404.9 720.88 L1405.22 726.99 L1405.54 730.02 L1405.86 730.97 L1406.17 730.91 L1406.49 730.79 L1406.81 730.62 L1407.13 730.43 L1407.44 730.05 L1407.76 729.26 L1408.08 712.89 L1408.16 700.51 L1408.73 605.39 L1409.3 575.73 L1409.86 565.48 L1410.43 560.62 L1411 557.58 L1411.56 556.12 L1412.13 555.3 L1412.7 554.71 L1413.26 554.26 L1413.83 553.87 L1414.4 553.47 L1414.96 553.1 L1415.53 552.79 L1416.1 552.62 L1416.66 552.63 L1417.23 552.82 L1417.8 553.08 L1418.37 553.35 L1418.93 553.64 L1419.5 553.99 L1420.07 554.26 L1420.63 554.31 L1421.2 554 L1421.77 553.49 L1422.33 553.01 L1422.9 552.71 L1423.47 552.45 L1424.03 552.24 L1424.6 552.08 L1424.6 552.12 L1424.92 677.61 L1425.24 706.53 L1425.55 720.83 L1425.87 726.93 L1426.19 729.97 L1426.51 730.92 L1426.82 730.86 L1427.14 730.74 L1427.46 730.57 L1427.78 730.37 L1428.09 730 L1428.41 729.21 L1428.73 712.84 L1428.81 700.47 L1429.38 605.39 L1429.95 575.73 L1430.51 565.48 L1431.08 560.62 L1431.65 557.58 L1432.21 556.12 L1432.78 555.3 L1433.35 554.71 L1433.91 554.26 L1434.48 553.87 L1435.05 553.47 L1435.61 553.1 L1436.18 552.79 L1436.75 552.62 L1437.31 552.63 L1437.88 552.82 L1438.45 553.08 L1439.02 553.35 L1439.58 553.64 L1440.15 553.99 L1440.72 554.26 L1441.28 554.31 L1441.85 554 L1442.42 553.49 L1442.98 553.01 L1443.55 552.71 L1444.12 552.45 L1444.68 552.24 L1445.25 552.08 L1445.25 552.12 L1445.57 677.58 L1445.89 706.49 L1446.2 720.79 L1446.52 726.89 L1446.84 729.93 L1447.16 730.87 L1447.47 730.82 L1447.79 730.7 L1448.11 730.53 L1448.43 730.33 L1448.74 729.95 L1449.06 729.17 L1449.38 712.81 L1449.46 700.44 L1449.91 617.84 L1450.35 584.74 L1450.8 571.21 L1451.25 564.53 L1451.69 560.88 L1452.14 558.31 L1452.58 556.67 L1453.03 555.77 L1453.47 555 L1453.92 554.37 L1454.37 553.91 L1454.81 553.63 L1455.26 553.56 L1455.7 553.64 L1456.15 553.78 L1456.59 553.96 L1457.04 554.14 L1457.49 554.4 L1457.93 554.66 L1458.38 554.8 L1458.82 554.71 L1459.27 554.38 L1459.71 553.94 L1460.16 553.52 L1460.61 553.13 L1461.05 552.72 L1461.5 552.29 L1461.94 551.83 L1462.39 551.35" fill="none" stroke="#000" stroke-width="1.8" stroke-linejoin="round" />
</svg></body></html>
